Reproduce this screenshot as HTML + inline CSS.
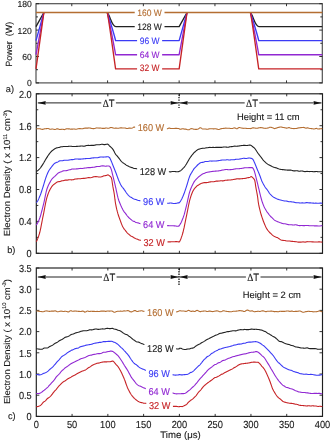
<!DOCTYPE html>
<html><head><meta charset="utf-8"><style>
html,body{margin:0;padding:0;background:#fff;}
svg{display:block;will-change:transform;}
text{font-family:"Liberation Sans",sans-serif;text-rendering:geometricPrecision;}
</style></head><body>
<svg width="331" height="441" viewBox="0 0 331 441">
<rect width="331" height="441" fill="#fff"/>
<rect x="36.0" y="3.7" width="286.30" height="79.20" fill="none" stroke="#4a4a4a" stroke-width="1.15"/>
<line x1="36.0" y1="82.90" x2="39.0" y2="82.90" stroke="#1e1e1e" stroke-width="0.9"/>
<line x1="322.3" y1="82.90" x2="319.3" y2="82.90" stroke="#1e1e1e" stroke-width="0.9"/>
<line x1="36.0" y1="56.50" x2="39.0" y2="56.50" stroke="#1e1e1e" stroke-width="0.9"/>
<line x1="322.3" y1="56.50" x2="319.3" y2="56.50" stroke="#1e1e1e" stroke-width="0.9"/>
<line x1="36.0" y1="30.10" x2="39.0" y2="30.10" stroke="#1e1e1e" stroke-width="0.9"/>
<line x1="322.3" y1="30.10" x2="319.3" y2="30.10" stroke="#1e1e1e" stroke-width="0.9"/>
<line x1="36.0" y1="3.70" x2="39.0" y2="3.70" stroke="#1e1e1e" stroke-width="0.9"/>
<line x1="322.3" y1="3.70" x2="319.3" y2="3.70" stroke="#1e1e1e" stroke-width="0.9"/>
<line x1="36.0" y1="69.70" x2="38.0" y2="69.70" stroke="#1e1e1e" stroke-width="0.9"/>
<line x1="322.3" y1="69.70" x2="320.3" y2="69.70" stroke="#1e1e1e" stroke-width="0.9"/>
<line x1="36.0" y1="43.30" x2="38.0" y2="43.30" stroke="#1e1e1e" stroke-width="0.9"/>
<line x1="322.3" y1="43.30" x2="320.3" y2="43.30" stroke="#1e1e1e" stroke-width="0.9"/>
<line x1="36.0" y1="16.90" x2="38.0" y2="16.90" stroke="#1e1e1e" stroke-width="0.9"/>
<line x1="322.3" y1="16.90" x2="320.3" y2="16.90" stroke="#1e1e1e" stroke-width="0.9"/>
<text transform="translate(31.80 86.31) scale(1.0 1.02)" text-anchor="end" style="font-size:8.6px;fill:#1a1a1a;stroke:#1a1a1a;stroke-width:0.12px;">0</text>
<text transform="translate(31.80 59.91) scale(1.0 1.02)" text-anchor="end" style="font-size:8.6px;fill:#1a1a1a;stroke:#1a1a1a;stroke-width:0.12px;">60</text>
<text transform="translate(31.80 33.51) scale(1.0 1.02)" text-anchor="end" style="font-size:8.6px;fill:#1a1a1a;stroke:#1a1a1a;stroke-width:0.12px;">120</text>
<text transform="translate(31.80 7.11) scale(1.0 1.02)" text-anchor="end" style="font-size:8.6px;fill:#1a1a1a;stroke:#1a1a1a;stroke-width:0.12px;">180</text>
<line x1="71.79" y1="82.9" x2="71.79" y2="80.4" stroke="#1e1e1e" stroke-width="0.9"/>
<line x1="71.79" y1="3.7" x2="71.79" y2="6.2" stroke="#1e1e1e" stroke-width="0.9"/>
<line x1="107.58" y1="82.9" x2="107.58" y2="80.4" stroke="#1e1e1e" stroke-width="0.9"/>
<line x1="107.58" y1="3.7" x2="107.58" y2="6.2" stroke="#1e1e1e" stroke-width="0.9"/>
<line x1="143.36" y1="82.9" x2="143.36" y2="80.4" stroke="#1e1e1e" stroke-width="0.9"/>
<line x1="143.36" y1="3.7" x2="143.36" y2="6.2" stroke="#1e1e1e" stroke-width="0.9"/>
<line x1="179.15" y1="82.9" x2="179.15" y2="80.4" stroke="#1e1e1e" stroke-width="0.9"/>
<line x1="179.15" y1="3.7" x2="179.15" y2="6.2" stroke="#1e1e1e" stroke-width="0.9"/>
<line x1="214.94" y1="82.9" x2="214.94" y2="80.4" stroke="#1e1e1e" stroke-width="0.9"/>
<line x1="214.94" y1="3.7" x2="214.94" y2="6.2" stroke="#1e1e1e" stroke-width="0.9"/>
<line x1="250.72" y1="82.9" x2="250.72" y2="80.4" stroke="#1e1e1e" stroke-width="0.9"/>
<line x1="250.72" y1="3.7" x2="250.72" y2="6.2" stroke="#1e1e1e" stroke-width="0.9"/>
<line x1="286.51" y1="82.9" x2="286.51" y2="80.4" stroke="#1e1e1e" stroke-width="0.9"/>
<line x1="286.51" y1="3.7" x2="286.51" y2="6.2" stroke="#1e1e1e" stroke-width="0.9"/>
<path d="M36.00 26.58 L43.87 12.50 M107.22 12.50 C110.08 15.50 111.87 26.58 115.81 26.58 L179.15 26.58 L179.15 26.58 L187.02 12.50 M250.37 12.50 C253.23 15.50 255.02 26.58 258.96 26.58 L322.30 26.58" stroke="#222222" stroke-width="1.35" fill="none" stroke-linejoin="round"/>
<path d="M36.00 40.66 L43.87 12.50 M107.22 12.50 C108.15 14.50 115.09 37.66 115.59 40.66 L179.15 40.66 L179.15 40.66 L187.02 12.50 M250.37 12.50 C251.30 14.50 258.24 37.66 258.74 40.66 L322.30 40.66" stroke="#3b3bf5" stroke-width="1.35" fill="none" stroke-linejoin="round"/>
<path d="M36.00 54.74 L43.87 12.50 M107.22 12.50 C108.15 14.50 115.09 51.74 115.59 54.74 L179.15 54.74 L179.15 54.74 L187.02 12.50 M250.37 12.50 C251.30 14.50 258.24 51.74 258.74 54.74 L322.30 54.74" stroke="#9128d2" stroke-width="1.35" fill="none" stroke-linejoin="round"/>
<path d="M36.00 68.82 L43.87 12.50 M107.22 12.50 C108.15 14.50 115.09 65.82 115.59 68.82 L179.15 68.82 L179.15 68.82 L187.02 12.50 M250.37 12.50 C251.30 14.50 258.24 65.82 258.74 68.82 L322.30 68.82" stroke="#c62326" stroke-width="1.35" fill="none" stroke-linejoin="round"/>
<path d="M36.0 12.50 L322.3 12.50" stroke="#b46e32" stroke-width="1.3" fill="none"/>
<rect x="134.72" y="7.30" width="29.77" height="9" fill="#fff"/>
<text transform="translate(149.60 15.60) scale(1.0 1.08)" text-anchor="middle" style="font-size:8.5px;fill:#b46e32;stroke:#b46e32;stroke-width:0.12px;">160 W</text>
<rect x="134.72" y="21.30" width="29.77" height="9" fill="#fff"/>
<text transform="translate(149.60 29.60) scale(1.0 1.08)" text-anchor="middle" style="font-size:8.5px;fill:#222222;stroke:#222222;stroke-width:0.12px;">128 W</text>
<rect x="137.08" y="35.50" width="25.04" height="9" fill="#fff"/>
<text transform="translate(149.60 43.80) scale(1.0 1.08)" text-anchor="middle" style="font-size:8.5px;fill:#3b3bf5;stroke:#3b3bf5;stroke-width:0.12px;">96 W</text>
<rect x="137.08" y="49.30" width="25.04" height="9" fill="#fff"/>
<text transform="translate(149.60 57.60) scale(1.0 1.08)" text-anchor="middle" style="font-size:8.5px;fill:#9128d2;stroke:#9128d2;stroke-width:0.12px;">64 W</text>
<rect x="137.08" y="63.10" width="25.04" height="9" fill="#fff"/>
<text transform="translate(149.60 71.40) scale(1.0 1.08)" text-anchor="middle" style="font-size:8.5px;fill:#c62326;stroke:#c62326;stroke-width:0.12px;">32 W</text>
<rect x="36.3" y="93.8" width="286.20" height="159.50" fill="none" stroke="#1e1e1e" stroke-width="1.15"/>
<line x1="36.3" y1="253.30" x2="39.3" y2="253.30" stroke="#1e1e1e" stroke-width="0.9"/>
<line x1="322.5" y1="253.30" x2="319.5" y2="253.30" stroke="#1e1e1e" stroke-width="0.9"/>
<line x1="36.3" y1="221.40" x2="39.3" y2="221.40" stroke="#1e1e1e" stroke-width="0.9"/>
<line x1="322.5" y1="221.40" x2="319.5" y2="221.40" stroke="#1e1e1e" stroke-width="0.9"/>
<line x1="36.3" y1="189.50" x2="39.3" y2="189.50" stroke="#1e1e1e" stroke-width="0.9"/>
<line x1="322.5" y1="189.50" x2="319.5" y2="189.50" stroke="#1e1e1e" stroke-width="0.9"/>
<line x1="36.3" y1="157.60" x2="39.3" y2="157.60" stroke="#1e1e1e" stroke-width="0.9"/>
<line x1="322.5" y1="157.60" x2="319.5" y2="157.60" stroke="#1e1e1e" stroke-width="0.9"/>
<line x1="36.3" y1="125.70" x2="39.3" y2="125.70" stroke="#1e1e1e" stroke-width="0.9"/>
<line x1="322.5" y1="125.70" x2="319.5" y2="125.70" stroke="#1e1e1e" stroke-width="0.9"/>
<line x1="36.3" y1="93.80" x2="39.3" y2="93.80" stroke="#1e1e1e" stroke-width="0.9"/>
<line x1="322.5" y1="93.80" x2="319.5" y2="93.80" stroke="#1e1e1e" stroke-width="0.9"/>
<line x1="36.3" y1="237.35" x2="38.3" y2="237.35" stroke="#1e1e1e" stroke-width="0.9"/>
<line x1="322.5" y1="237.35" x2="320.5" y2="237.35" stroke="#1e1e1e" stroke-width="0.9"/>
<line x1="36.3" y1="205.45" x2="38.3" y2="205.45" stroke="#1e1e1e" stroke-width="0.9"/>
<line x1="322.5" y1="205.45" x2="320.5" y2="205.45" stroke="#1e1e1e" stroke-width="0.9"/>
<line x1="36.3" y1="173.55" x2="38.3" y2="173.55" stroke="#1e1e1e" stroke-width="0.9"/>
<line x1="322.5" y1="173.55" x2="320.5" y2="173.55" stroke="#1e1e1e" stroke-width="0.9"/>
<line x1="36.3" y1="141.65" x2="38.3" y2="141.65" stroke="#1e1e1e" stroke-width="0.9"/>
<line x1="322.5" y1="141.65" x2="320.5" y2="141.65" stroke="#1e1e1e" stroke-width="0.9"/>
<line x1="36.3" y1="109.75" x2="38.3" y2="109.75" stroke="#1e1e1e" stroke-width="0.9"/>
<line x1="322.5" y1="109.75" x2="320.5" y2="109.75" stroke="#1e1e1e" stroke-width="0.9"/>
<text transform="translate(31.70 257.18) scale(1.0 1.1)" text-anchor="end" style="font-size:9.2px;fill:#1a1a1a;stroke:#1a1a1a;stroke-width:0.12px;">0</text>
<text transform="translate(31.70 225.28) scale(1.0 1.1)" text-anchor="end" style="font-size:9.2px;fill:#1a1a1a;stroke:#1a1a1a;stroke-width:0.12px;">0.4</text>
<text transform="translate(31.70 193.38) scale(1.0 1.1)" text-anchor="end" style="font-size:9.2px;fill:#1a1a1a;stroke:#1a1a1a;stroke-width:0.12px;">0.8</text>
<text transform="translate(31.70 161.48) scale(1.0 1.1)" text-anchor="end" style="font-size:9.2px;fill:#1a1a1a;stroke:#1a1a1a;stroke-width:0.12px;">1.2</text>
<text transform="translate(31.70 129.58) scale(1.0 1.1)" text-anchor="end" style="font-size:9.2px;fill:#1a1a1a;stroke:#1a1a1a;stroke-width:0.12px;">1.6</text>
<text transform="translate(31.70 97.68) scale(1.0 1.1)" text-anchor="end" style="font-size:9.2px;fill:#1a1a1a;stroke:#1a1a1a;stroke-width:0.12px;">2.0</text>
<line x1="72.07" y1="253.3" x2="72.07" y2="250.8" stroke="#1e1e1e" stroke-width="0.9"/>
<line x1="72.07" y1="93.8" x2="72.07" y2="96.3" stroke="#1e1e1e" stroke-width="0.9"/>
<line x1="107.85" y1="253.3" x2="107.85" y2="250.8" stroke="#1e1e1e" stroke-width="0.9"/>
<line x1="107.85" y1="93.8" x2="107.85" y2="96.3" stroke="#1e1e1e" stroke-width="0.9"/>
<line x1="143.62" y1="253.3" x2="143.62" y2="250.8" stroke="#1e1e1e" stroke-width="0.9"/>
<line x1="143.62" y1="93.8" x2="143.62" y2="96.3" stroke="#1e1e1e" stroke-width="0.9"/>
<line x1="179.40" y1="253.3" x2="179.40" y2="250.8" stroke="#1e1e1e" stroke-width="0.9"/>
<line x1="179.40" y1="93.8" x2="179.40" y2="96.3" stroke="#1e1e1e" stroke-width="0.9"/>
<line x1="215.18" y1="253.3" x2="215.18" y2="250.8" stroke="#1e1e1e" stroke-width="0.9"/>
<line x1="215.18" y1="93.8" x2="215.18" y2="96.3" stroke="#1e1e1e" stroke-width="0.9"/>
<line x1="250.95" y1="253.3" x2="250.95" y2="250.8" stroke="#1e1e1e" stroke-width="0.9"/>
<line x1="250.95" y1="93.8" x2="250.95" y2="96.3" stroke="#1e1e1e" stroke-width="0.9"/>
<line x1="286.73" y1="253.3" x2="286.73" y2="250.8" stroke="#1e1e1e" stroke-width="0.9"/>
<line x1="286.73" y1="93.8" x2="286.73" y2="96.3" stroke="#1e1e1e" stroke-width="0.9"/>
<path d="M36.3 128.87 L36.8 128.81 L37.3 128.78 L37.8 128.76 L38.3 128.76 L38.8 128.78 L39.3 128.78 L39.8 128.78 L40.3 128.85 L40.8 129.00 L41.3 129.18 L41.8 129.32 L42.3 129.39 L42.8 129.34 L43.3 129.21 L43.8 129.02 L44.3 128.86 L44.8 128.77 L45.3 128.74 L45.8 128.72 L46.3 128.67 L46.8 128.61 L47.3 128.54 L47.8 128.50 L48.3 128.55 L48.8 128.71 L49.3 128.93 L49.8 129.13 L50.3 129.22 L50.8 129.20 L51.3 129.15 L51.8 129.07 L52.3 129.02 L52.8 129.06 L53.3 129.18 L53.8 129.32 L54.3 129.41 L54.8 129.46 L55.3 129.43 L55.8 129.30 L56.3 129.08 L56.8 128.88 L57.3 128.79 L57.8 128.85 L58.3 129.01 L58.8 129.22 L59.3 129.39 L59.8 129.46 L60.3 129.46 L60.8 129.41 L61.3 129.36 L61.8 129.31 L62.3 129.28 L62.8 129.30 L63.3 129.40 L63.8 129.54 L64.3 129.61 L64.8 129.55 L65.3 129.34 L65.9 129.08 L66.4 128.88 L66.9 128.79 L67.4 128.78 L67.9 128.83 L68.4 128.86 L68.9 128.87 L69.4 128.92 L69.9 129.01 L70.4 129.10 L70.9 129.17 L71.4 129.17 L71.9 129.13 L72.4 129.11 L72.9 129.08 L73.4 129.06 L73.9 129.04 L74.4 129.07 L74.9 129.15 L75.4 129.25 L75.9 129.29 L76.4 129.23 L76.9 129.09 L77.4 128.92 L77.9 128.77 L78.4 128.67 L78.9 128.62 L79.4 128.60 L79.9 128.59 L80.4 128.62 L80.9 128.68 L81.4 128.75 L81.9 128.76 L82.4 128.71 L82.9 128.61 L83.4 128.48 L83.9 128.35 L84.4 128.24 L84.9 128.14 L85.4 128.09 L85.9 128.07 L86.4 128.09 L86.9 128.14 L87.4 128.14 L87.9 128.09 L88.4 127.99 L88.9 127.92 L89.4 127.93 L89.9 128.01 L90.4 128.13 L90.9 128.27 L91.4 128.41 L91.9 128.48 L92.4 128.53 L92.9 128.59 L93.4 128.64 L93.9 128.61 L94.4 128.53 L94.9 128.42 L95.4 128.27 L95.9 128.09 L96.4 127.95 L96.9 127.92 L97.4 127.96 L97.9 128.01 L98.4 128.05 L98.9 128.08 L99.4 128.09 L99.9 128.06 L100.4 128.06 L100.9 128.11 L101.4 128.20 L101.9 128.29 L102.4 128.36 L102.9 128.39 L103.4 128.40 L103.9 128.37 L104.4 128.33 L104.9 128.24 L105.4 128.11 L105.9 128.00 L106.4 127.98 L106.9 128.05 L107.4 128.17 L107.9 128.28 L108.4 128.31 L108.9 128.23 L109.4 128.02 L109.9 127.78 L110.4 127.62 L110.9 127.54 L111.4 127.52 L111.9 127.58 L112.4 127.70 L112.9 127.86 L113.4 128.05 L113.9 128.20 L114.4 128.25 L114.9 128.20 L115.4 128.14 L115.9 128.13 L116.4 128.17 L116.9 128.22 L117.4 128.28 L117.9 128.32 L118.4 128.28 L118.9 128.18 L119.4 128.08 L119.9 127.99 L120.4 127.90 L120.9 127.83 L121.4 127.84 L121.9 127.91 L122.4 127.99 L122.9 128.05 L123.4 128.06 L123.9 128.02 L124.4 127.99 L125.0 128.02 L125.5 128.11 L126.0 128.26 L126.5 128.42 L127.0 128.52 L127.5 128.50 L128.0 128.38 L128.5 128.21 L129.0 128.09 L129.5 128.05 L130.0 128.09 L130.5 128.16 L131.0 128.20 L131.5 128.19 L132.0 128.08 L132.5 127.89 L133.0 127.62 L133.5 127.32 L134.0 127.09 L134.5 127.04 L135.0 127.14 L135.5 127.36 L136.0 127.59 L136.5 127.70 L137.0 127.70 L137.5 127.67 L138.0 127.67 L138.5 127.74 L139.0 127.87 L139.5 128.02 L140.0 128.19 L140.5 128.35 L141.0 128.46 L141.5 128.50 L142.0 128.48 L142.5 128.40 L143.0 128.29 L143.5 128.17 L144.0 128.02 L144.5 127.90 L145.0 127.81 L145.5 127.77 L146.0 127.82 L146.5 127.98 L147.0 128.14 L147.5 128.19 L148.0 128.08 L148.5 127.83 L149.0 127.55 L149.5 127.34 L150.0 127.27 L150.5 127.35 L151.0 127.49 L151.5 127.56 L152.0 127.57 L152.5 127.58 L153.0 127.62 L153.5 127.73 L154.0 127.91 L154.5 128.05 L155.0 128.11 L155.5 128.02 L156.0 127.83 L156.5 127.69 L157.0 127.66 L157.5 127.73 L158.0 127.93 L158.5 128.18 L159.0 128.38 L159.5 128.47 L160.0 128.41 L160.5 128.26 L161.0 128.11 L161.5 127.98 L162.0 127.94 L162.5 128.04 L163.0 128.20 L163.5 128.36 L164.0 128.45 L164.5 128.46 L165.0 128.45 L165.5 128.48 L166.0 128.56 L166.5 128.68 L167.0 128.73 L167.5 128.65 L168.0 128.45 L168.5 128.23 L169.0 128.10 L169.5 128.12 L170.0 128.24 L170.5 128.36 L171.0 128.44 L171.5 128.47 L172.0 128.47 L172.5 128.49 L173.0 128.54 L173.5 128.57 L174.0 128.54 L174.5 128.45 L175.0 128.36 L175.5 128.33 L176.0 128.34 L176.5 128.38 L177.0 128.42 L177.5 128.46 L178.0 128.49 L178.5 128.53 L179.0 128.58 L179.5 129.07 L180.0 129.17 L180.5 129.21 L181.0 129.15 L181.5 129.01 L182.0 128.87 L182.5 128.81 L183.0 128.81 L183.5 128.89 L184.1 129.01 L184.6 129.10 L185.1 129.14 L185.6 129.17 L186.1 129.23 L186.6 129.35 L187.1 129.53 L187.6 129.69 L188.1 129.80 L188.6 129.81 L189.1 129.67 L189.6 129.43 L190.1 129.12 L190.6 128.85 L191.1 128.67 L191.6 128.63 L192.1 128.70 L192.6 128.83 L193.1 128.97 L193.6 129.10 L194.1 129.20 L194.6 129.29 L195.1 129.37 L195.6 129.42 L196.1 129.41 L196.6 129.37 L197.1 129.31 L197.6 129.20 L198.1 129.00 L198.6 128.71 L199.1 128.34 L199.6 127.97 L200.1 127.72 L200.6 127.70 L201.1 127.94 L201.6 128.33 L202.1 128.70 L202.6 128.94 L203.1 129.04 L203.6 129.03 L204.1 128.98 L204.6 128.94 L205.1 128.96 L205.6 129.01 L206.1 129.10 L206.6 129.19 L207.1 129.22 L207.6 129.18 L208.1 129.09 L208.6 128.97 L209.1 128.86 L209.6 128.78 L210.1 128.74 L210.6 128.72 L211.1 128.70 L211.6 128.68 L212.1 128.70 L212.6 128.78 L213.1 128.85 L213.6 128.86 L214.1 128.83 L214.6 128.81 L215.1 128.79 L215.6 128.80 L216.1 128.86 L216.6 128.97 L217.1 129.12 L217.6 129.27 L218.1 129.42 L218.6 129.49 L219.1 129.42 L219.6 129.25 L220.1 129.05 L220.6 128.86 L221.1 128.70 L221.6 128.60 L222.1 128.54 L222.6 128.50 L223.1 128.44 L223.6 128.41 L224.1 128.38 L224.6 128.31 L225.1 128.19 L225.6 128.11 L226.1 128.12 L226.6 128.19 L227.1 128.28 L227.6 128.32 L228.1 128.29 L228.6 128.21 L229.1 128.18 L229.6 128.25 L230.1 128.35 L230.6 128.43 L231.1 128.48 L231.6 128.51 L232.1 128.49 L232.6 128.41 L233.1 128.27 L233.6 128.10 L234.1 127.94 L234.6 127.86 L235.1 127.94 L235.6 128.19 L236.1 128.52 L236.6 128.74 L237.1 128.71 L237.6 128.42 L238.1 128.04 L238.6 127.73 L239.1 127.57 L239.6 127.54 L240.1 127.66 L240.6 127.84 L241.1 127.95 L241.6 128.01 L242.1 128.11 L242.7 128.23 L243.2 128.32 L243.7 128.33 L244.2 128.27 L244.7 128.21 L245.2 128.19 L245.7 128.23 L246.2 128.34 L246.7 128.47 L247.2 128.55 L247.7 128.56 L248.2 128.53 L248.7 128.48 L249.2 128.49 L249.7 128.57 L250.2 128.62 L250.7 128.56 L251.2 128.38 L251.7 128.16 L252.2 127.96 L252.7 127.84 L253.2 127.82 L253.7 127.89 L254.2 127.99 L254.7 128.06 L255.2 128.10 L255.7 128.18 L256.2 128.25 L256.7 128.28 L257.2 128.25 L257.7 128.16 L258.2 128.03 L258.7 127.90 L259.2 127.79 L259.7 127.69 L260.2 127.62 L260.7 127.58 L261.2 127.59 L261.7 127.67 L262.2 127.77 L262.7 127.89 L263.2 128.02 L263.7 128.15 L264.2 128.25 L264.7 128.31 L265.2 128.34 L265.7 128.31 L266.2 128.24 L266.7 128.17 L267.2 128.11 L267.7 128.03 L268.2 127.88 L268.7 127.66 L269.2 127.42 L269.7 127.27 L270.2 127.22 L270.7 127.29 L271.2 127.40 L271.7 127.53 L272.2 127.68 L272.7 127.85 L273.2 128.10 L273.7 128.37 L274.2 128.58 L274.7 128.63 L275.2 128.52 L275.7 128.32 L276.2 128.12 L276.7 127.93 L277.2 127.76 L277.7 127.63 L278.2 127.52 L278.7 127.36 L279.2 127.21 L279.7 127.09 L280.2 127.03 L280.7 127.03 L281.2 127.07 L281.7 127.15 L282.2 127.27 L282.7 127.39 L283.2 127.48 L283.7 127.56 L284.2 127.62 L284.7 127.69 L285.2 127.82 L285.7 127.97 L286.2 128.09 L286.7 128.13 L287.2 128.08 L287.7 127.95 L288.2 127.78 L288.7 127.67 L289.2 127.67 L289.7 127.81 L290.2 128.00 L290.7 128.17 L291.2 128.30 L291.7 128.39 L292.2 128.45 L292.7 128.51 L293.2 128.57 L293.7 128.59 L294.2 128.58 L294.7 128.56 L295.2 128.54 L295.7 128.51 L296.2 128.46 L296.7 128.37 L297.2 128.24 L297.7 128.09 L298.2 127.98 L298.7 127.91 L299.2 127.86 L299.7 127.80 L300.2 127.73 L300.7 127.65 L301.2 127.58 L301.8 127.54 L302.3 127.50 L302.8 127.42 L303.3 127.36 L303.8 127.43 L304.3 127.62 L304.8 127.84 L305.3 128.02 L305.8 128.11 L306.3 128.08 L306.8 127.95 L307.3 127.84 L307.8 127.86 L308.3 128.00 L308.8 128.18 L309.3 128.33 L309.8 128.43 L310.3 128.50 L310.8 128.54 L311.3 128.58 L311.8 128.62 L312.3 128.67 L312.8 128.78 L313.3 128.91 L313.8 128.98 L314.3 128.96 L314.8 128.83 L315.3 128.63 L315.8 128.46 L316.3 128.37 L316.8 128.47 L317.3 128.69 L317.8 128.89 L318.3 129.00 L318.8 128.98 L319.3 128.90 L319.8 128.83 L320.3 128.79 L320.8 128.77 L321.3 128.72 L321.8 128.65 L322.3 128.61" stroke="#b46e32" stroke-width="1.1" fill="none"/>
<path d="M36.3 171.53 L36.8 171.29 L37.3 170.94 L37.8 170.51 L38.3 170.05 L38.8 169.56 L39.3 169.08 L39.8 168.56 L40.3 167.99 L40.8 167.34 L41.3 166.63 L41.8 165.89 L42.3 165.13 L42.8 164.35 L43.3 163.54 L43.8 162.69 L44.3 161.79 L44.8 160.90 L45.3 160.04 L45.8 159.20 L46.3 158.40 L46.8 157.62 L47.3 156.84 L47.8 156.06 L48.3 155.29 L48.8 154.57 L49.3 153.91 L49.8 153.25 L50.3 152.61 L50.8 152.01 L51.3 151.49 L51.8 151.04 L52.3 150.65 L52.8 150.27 L53.3 149.88 L53.8 149.48 L54.3 149.08 L54.8 148.73 L55.3 148.44 L55.8 148.23 L56.3 148.05 L56.8 147.90 L57.3 147.78 L57.8 147.67 L58.3 147.58 L58.8 147.48 L59.3 147.35 L59.8 147.19 L60.3 147.03 L60.8 146.91 L61.3 146.81 L61.8 146.74 L62.3 146.67 L62.8 146.60 L63.3 146.51 L63.8 146.45 L64.3 146.43 L64.8 146.46 L65.3 146.51 L65.9 146.55 L66.4 146.56 L66.9 146.54 L67.4 146.50 L67.9 146.43 L68.4 146.37 L68.9 146.32 L69.4 146.27 L69.9 146.24 L70.4 146.23 L70.9 146.26 L71.4 146.33 L71.9 146.40 L72.4 146.43 L72.9 146.46 L73.4 146.46 L73.9 146.45 L74.4 146.44 L74.9 146.45 L75.4 146.45 L75.9 146.45 L76.4 146.42 L76.9 146.38 L77.4 146.35 L77.9 146.31 L78.4 146.27 L78.9 146.23 L79.4 146.18 L79.9 146.14 L80.4 146.10 L80.9 146.04 L81.4 146.00 L81.9 145.98 L82.4 146.02 L82.9 146.10 L83.4 146.17 L83.9 146.19 L84.4 146.15 L84.9 146.03 L85.4 145.86 L85.9 145.68 L86.4 145.56 L86.9 145.49 L87.4 145.45 L87.9 145.42 L88.4 145.40 L88.9 145.42 L89.4 145.43 L89.9 145.43 L90.4 145.41 L90.9 145.37 L91.4 145.34 L91.9 145.33 L92.4 145.35 L92.9 145.39 L93.4 145.41 L93.9 145.36 L94.4 145.26 L94.9 145.12 L95.4 144.97 L95.9 144.84 L96.4 144.75 L96.9 144.72 L97.4 144.72 L97.9 144.72 L98.4 144.72 L98.9 144.71 L99.4 144.68 L99.9 144.62 L100.4 144.53 L100.9 144.41 L101.4 144.30 L101.9 144.24 L102.4 144.28 L102.9 144.40 L103.4 144.53 L103.9 144.62 L104.4 144.65 L104.9 144.60 L105.4 144.50 L105.9 144.39 L106.4 144.29 L106.9 144.20 L107.4 144.14 L107.9 144.19 L108.4 144.57 L108.9 145.15 L109.4 145.77 L109.9 146.29 L110.4 146.72 L110.9 147.14 L111.4 147.57 L111.9 148.07 L112.4 148.64 L112.9 149.32 L113.4 150.14 L113.9 151.09 L114.4 152.09 L114.9 153.05 L115.4 153.87 L115.9 154.54 L116.4 155.15 L116.9 155.72 L117.4 156.29 L117.9 156.90 L118.4 157.54 L118.9 158.20 L119.4 158.86 L119.9 159.55 L120.4 160.22 L120.9 160.84 L121.4 161.38 L121.9 161.87 L122.4 162.31 L122.9 162.70 L123.4 163.05 L123.9 163.40 L124.4 163.75 L125.0 164.12 L125.5 164.49 L126.0 164.86 L126.5 165.16 L127.0 165.41 L127.5 165.64 L128.0 165.89 L128.5 166.18 L129.0 166.49 L129.5 166.78 L130.0 167.00 L130.5 167.15 L131.0 167.27 L131.5 167.43 L132.0 167.62 L132.5 167.83 L133.0 168.05 L133.5 168.23 L134.0 168.36 L134.5 168.44 L135.0 168.48 L135.5 168.54 L136.0 168.61 L136.5 168.68 L137.0 168.77 L137.5 168.89 L138.0 169.02 L138.5 169.17 L139.0 169.31 L139.5 169.45 L140.0 169.58 L140.5 169.71 L141.0 169.82 L141.5 169.91 L142.0 169.97 L142.5 170.00 L143.0 170.02 L143.5 170.06 L144.0 170.14 L144.5 170.26 L145.0 170.41 L145.5 170.52 L146.0 170.59 L146.5 170.59 L147.0 170.55 L147.5 170.47 L148.0 170.39 L148.5 170.34 L149.0 170.33 L149.5 170.36 L150.0 170.40 L150.5 170.42 L151.0 170.43 L151.5 170.45 L152.0 170.49 L152.5 170.58 L153.0 170.70 L153.5 170.82 L154.0 170.92 L154.5 170.99 L155.0 171.03 L155.5 171.07 L156.0 171.10 L156.5 171.13 L157.0 171.12 L157.5 171.10 L158.0 171.09 L158.5 171.11 L159.0 171.17 L159.5 171.29 L160.0 171.43 L160.5 171.54 L161.0 171.59 L161.5 171.57 L162.0 171.50 L162.5 171.41 L163.0 171.34 L163.5 171.32 L164.0 171.32 L164.5 171.33 L165.0 171.32 L165.5 171.30 L166.0 171.27 L166.5 171.26 L167.0 171.28 L167.5 171.34 L168.0 171.45 L168.5 171.58 L169.0 171.72 L169.5 171.83 L170.0 171.90 L170.5 171.89 L171.0 171.79 L171.5 171.67 L172.0 171.57 L172.5 171.52 L173.0 171.52 L173.5 171.53 L174.0 171.53 L174.5 171.55 L175.0 171.57 L175.5 171.63 L176.0 171.71 L176.5 171.78 L177.0 171.80 L177.5 171.77 L178.0 171.69 L178.5 171.61 L179.0 171.56 L179.5 171.26 L180.0 170.98 L180.5 170.69 L181.0 170.34 L181.5 169.94 L182.0 169.48 L182.5 168.98 L183.0 168.45 L183.5 167.89 L184.1 167.31 L184.6 166.69 L185.1 166.03 L185.6 165.28 L186.1 164.49 L186.6 163.67 L187.1 162.81 L187.6 161.92 L188.1 161.03 L188.6 160.17 L189.1 159.34 L189.6 158.54 L190.1 157.76 L190.6 157.04 L191.1 156.34 L191.6 155.66 L192.1 155.00 L192.6 154.38 L193.1 153.79 L193.6 153.21 L194.1 152.68 L194.6 152.22 L195.1 151.79 L195.6 151.34 L196.1 150.88 L196.6 150.45 L197.1 150.08 L197.6 149.75 L198.1 149.49 L198.6 149.29 L199.1 149.15 L199.6 148.99 L200.1 148.82 L200.6 148.66 L201.1 148.52 L201.6 148.42 L202.1 148.35 L202.6 148.32 L203.1 148.32 L203.6 148.31 L204.1 148.27 L204.6 148.19 L205.1 148.08 L205.6 147.95 L206.1 147.84 L206.6 147.78 L207.1 147.74 L207.6 147.71 L208.1 147.65 L208.6 147.55 L209.1 147.45 L209.6 147.39 L210.1 147.41 L210.6 147.46 L211.1 147.50 L211.6 147.49 L212.1 147.44 L212.6 147.38 L213.1 147.35 L213.6 147.39 L214.1 147.44 L214.6 147.47 L215.1 147.44 L215.6 147.39 L216.1 147.35 L216.6 147.33 L217.1 147.34 L217.6 147.37 L218.1 147.38 L218.6 147.35 L219.1 147.32 L219.6 147.33 L220.1 147.36 L220.6 147.40 L221.1 147.42 L221.6 147.39 L222.1 147.30 L222.6 147.19 L223.1 147.10 L223.6 147.04 L224.1 147.01 L224.6 146.99 L225.1 147.00 L225.6 147.04 L226.1 147.09 L226.6 147.16 L227.1 147.25 L227.6 147.30 L228.1 147.26 L228.6 147.15 L229.1 147.02 L229.6 146.88 L230.1 146.76 L230.6 146.69 L231.1 146.66 L231.6 146.64 L232.1 146.61 L232.6 146.53 L233.1 146.41 L233.6 146.29 L234.1 146.19 L234.6 146.15 L235.1 146.17 L235.6 146.21 L236.1 146.25 L236.6 146.25 L237.1 146.21 L237.6 146.16 L238.1 146.10 L238.6 146.03 L239.1 145.95 L239.6 145.86 L240.1 145.78 L240.6 145.70 L241.1 145.62 L241.6 145.56 L242.1 145.50 L242.7 145.45 L243.2 145.41 L243.7 145.38 L244.2 145.38 L244.7 145.38 L245.2 145.40 L245.7 145.43 L246.2 145.46 L246.7 145.47 L247.2 145.44 L247.7 145.38 L248.2 145.28 L248.7 145.17 L249.2 145.11 L249.7 145.11 L250.2 145.16 L250.7 145.23 L251.2 145.42 L251.7 145.81 L252.2 146.27 L252.7 146.71 L253.2 147.07 L253.7 147.44 L254.2 147.86 L254.7 148.38 L255.2 149.00 L255.7 149.69 L256.2 150.45 L256.7 151.24 L257.2 152.05 L257.7 152.82 L258.2 153.54 L258.7 154.20 L259.2 154.84 L259.7 155.47 L260.2 156.09 L260.7 156.72 L261.2 157.38 L261.7 158.05 L262.2 158.75 L262.7 159.44 L263.2 160.09 L263.7 160.66 L264.2 161.17 L264.7 161.64 L265.2 162.11 L265.7 162.57 L266.2 163.01 L266.7 163.43 L267.2 163.80 L267.7 164.13 L268.2 164.42 L268.7 164.67 L269.2 164.91 L269.7 165.16 L270.2 165.44 L270.7 165.72 L271.2 166.01 L271.7 166.30 L272.2 166.56 L272.7 166.78 L273.2 166.98 L273.7 167.17 L274.2 167.35 L274.7 167.51 L275.2 167.64 L275.7 167.76 L276.2 167.89 L276.7 168.04 L277.2 168.22 L277.7 168.43 L278.2 168.65 L278.7 168.86 L279.2 169.05 L279.7 169.20 L280.2 169.31 L280.7 169.41 L281.2 169.49 L281.7 169.55 L282.2 169.58 L282.7 169.60 L283.2 169.63 L283.7 169.71 L284.2 169.79 L284.7 169.85 L285.2 169.90 L285.7 169.95 L286.2 170.00 L286.7 170.05 L287.2 170.10 L287.7 170.14 L288.2 170.16 L288.7 170.14 L289.2 170.11 L289.7 170.09 L290.2 170.12 L290.7 170.17 L291.2 170.23 L291.7 170.33 L292.2 170.47 L292.7 170.63 L293.2 170.78 L293.7 170.86 L294.2 170.89 L294.7 170.88 L295.2 170.83 L295.7 170.78 L296.2 170.76 L296.7 170.76 L297.2 170.79 L297.7 170.86 L298.2 170.97 L298.7 171.09 L299.2 171.18 L299.7 171.20 L300.2 171.13 L300.7 171.05 L301.2 170.97 L301.8 170.95 L302.3 171.01 L302.8 171.12 L303.3 171.27 L303.8 171.42 L304.3 171.52 L304.8 171.58 L305.3 171.58 L305.8 171.53 L306.3 171.47 L306.8 171.42 L307.3 171.42 L307.8 171.48 L308.3 171.54 L308.8 171.57 L309.3 171.58 L309.8 171.55 L310.3 171.53 L310.8 171.51 L311.3 171.51 L311.8 171.54 L312.3 171.57 L312.8 171.61 L313.3 171.66 L313.8 171.68 L314.3 171.67 L314.8 171.64 L315.3 171.60 L315.8 171.55 L316.3 171.53 L316.8 171.56 L317.3 171.64 L317.8 171.71 L318.3 171.76 L318.8 171.79 L319.3 171.78 L319.8 171.77 L320.3 171.74 L320.8 171.73 L321.3 171.72 L321.8 171.73 L322.3 171.76" stroke="#222222" stroke-width="1.1" fill="none"/>
<path d="M36.3 202.70 L36.8 202.16 L37.3 201.49 L37.8 200.67 L38.3 199.71 L38.8 198.64 L39.3 197.50 L39.8 196.33 L40.3 195.06 L40.8 193.70 L41.3 192.24 L41.8 190.71 L42.3 189.13 L42.8 187.54 L43.3 185.97 L43.8 184.36 L44.3 182.68 L44.8 181.02 L45.3 179.43 L45.8 177.90 L46.3 176.47 L46.8 175.17 L47.3 173.94 L47.8 172.75 L48.3 171.66 L48.8 170.73 L49.3 169.93 L49.8 169.22 L50.3 168.56 L50.8 167.92 L51.3 167.25 L51.8 166.58 L52.3 165.93 L52.8 165.31 L53.3 164.72 L53.8 164.17 L54.3 163.69 L54.8 163.30 L55.3 163.00 L55.8 162.75 L56.3 162.55 L56.8 162.36 L57.3 162.16 L57.8 161.91 L58.3 161.64 L58.8 161.35 L59.3 161.07 L59.8 160.85 L60.3 160.73 L60.8 160.70 L61.3 160.73 L61.8 160.75 L62.3 160.72 L62.8 160.64 L63.3 160.51 L63.8 160.39 L64.3 160.31 L64.8 160.26 L65.3 160.24 L65.9 160.23 L66.4 160.23 L66.9 160.22 L67.4 160.21 L67.9 160.18 L68.4 160.14 L68.9 160.07 L69.4 159.97 L69.9 159.85 L70.4 159.76 L70.9 159.69 L71.4 159.64 L71.9 159.62 L72.4 159.61 L72.9 159.60 L73.4 159.55 L73.9 159.44 L74.4 159.29 L74.9 159.14 L75.4 159.01 L75.9 158.94 L76.4 158.95 L76.9 158.99 L77.4 159.05 L77.9 159.07 L78.4 159.08 L78.9 159.07 L79.4 159.09 L79.9 159.11 L80.4 159.11 L80.9 159.09 L81.4 159.05 L81.9 159.01 L82.4 158.97 L82.9 158.91 L83.4 158.86 L83.9 158.82 L84.4 158.75 L84.9 158.68 L85.4 158.62 L85.9 158.58 L86.4 158.54 L86.9 158.51 L87.4 158.47 L87.9 158.47 L88.4 158.47 L88.9 158.47 L89.4 158.45 L89.9 158.41 L90.4 158.35 L90.9 158.26 L91.4 158.14 L91.9 158.03 L92.4 157.95 L92.9 157.89 L93.4 157.86 L93.9 157.85 L94.4 157.81 L94.9 157.77 L95.4 157.74 L95.9 157.72 L96.4 157.73 L96.9 157.72 L97.4 157.68 L97.9 157.60 L98.4 157.49 L98.9 157.38 L99.4 157.26 L99.9 157.15 L100.4 157.06 L100.9 157.00 L101.4 156.98 L101.9 157.00 L102.4 157.04 L102.9 157.08 L103.4 157.08 L103.9 157.06 L104.4 157.03 L104.9 156.99 L105.4 156.96 L105.9 156.91 L106.4 156.85 L106.9 156.80 L107.4 156.77 L107.9 156.76 L108.4 156.84 L108.9 157.10 L109.4 157.48 L109.9 158.14 L110.4 159.16 L110.9 160.33 L111.4 161.45 L111.9 162.66 L112.4 163.95 L112.9 165.27 L113.4 166.57 L113.9 167.82 L114.4 169.04 L114.9 170.26 L115.4 171.49 L115.9 172.75 L116.4 174.06 L116.9 175.44 L117.4 176.84 L117.9 178.22 L118.4 179.54 L118.9 180.76 L119.4 181.90 L119.9 183.02 L120.4 184.09 L120.9 185.06 L121.4 185.91 L121.9 186.63 L122.4 187.25 L122.9 187.83 L123.4 188.45 L123.9 189.13 L124.4 189.88 L125.0 190.67 L125.5 191.46 L126.0 192.22 L126.5 192.94 L127.0 193.63 L127.5 194.28 L128.0 194.90 L128.5 195.46 L129.0 195.96 L129.5 196.39 L130.0 196.74 L130.5 197.04 L131.0 197.31 L131.5 197.57 L132.0 197.87 L132.5 198.21 L133.0 198.54 L133.5 198.82 L134.0 199.04 L134.5 199.19 L135.0 199.32 L135.5 199.44 L136.0 199.58 L136.5 199.77 L137.0 199.96 L137.5 200.15 L138.0 200.31 L138.5 200.43 L139.0 200.53 L139.5 200.61 L140.0 200.68 L140.5 200.72 L141.0 200.78 L141.5 200.85 L142.0 200.96 L142.5 201.09 L143.0 201.20 L143.5 201.27 L144.0 201.31 L144.5 201.36 L145.0 201.43 L145.5 201.55 L146.0 201.68 L146.5 201.83 L147.0 201.97 L147.5 202.10 L148.0 202.20 L148.5 202.26 L149.0 202.27 L149.5 202.24 L150.0 202.21 L150.5 202.23 L151.0 202.33 L151.5 202.49 L152.0 202.66 L152.5 202.81 L153.0 202.93 L153.5 203.01 L154.0 203.06 L154.5 203.09 L155.0 203.10 L155.5 203.04 L156.0 202.93 L156.5 202.81 L157.0 202.71 L157.5 202.65 L158.0 202.63 L158.5 202.66 L159.0 202.75 L159.5 202.86 L160.0 202.98 L160.5 203.08 L161.0 203.15 L161.5 203.18 L162.0 203.18 L162.5 203.16 L163.0 203.15 L163.5 203.15 L164.0 203.12 L164.5 203.08 L165.0 203.04 L165.5 203.02 L166.0 203.04 L166.5 203.10 L167.0 203.17 L167.5 203.24 L168.0 203.27 L168.5 203.25 L169.0 203.18 L169.5 203.10 L170.0 203.04 L170.5 203.03 L171.0 203.05 L171.5 203.10 L172.0 203.19 L172.5 203.29 L173.0 203.38 L173.5 203.43 L174.0 203.45 L174.5 203.46 L175.0 203.45 L175.5 203.42 L176.0 203.36 L176.5 203.29 L177.0 203.17 L177.5 203.03 L178.0 202.91 L178.5 202.88 L179.0 202.93 L179.5 202.37 L180.0 201.82 L180.5 201.14 L181.0 200.32 L181.5 199.40 L182.0 198.40 L182.5 197.34 L183.0 196.22 L183.5 194.96 L184.1 193.58 L184.6 192.13 L185.1 190.65 L185.6 189.15 L186.1 187.65 L186.6 186.14 L187.1 184.52 L187.6 182.81 L188.1 181.08 L188.6 179.41 L189.1 177.86 L189.6 176.49 L190.1 175.36 L190.6 174.38 L191.1 173.51 L191.6 172.70 L192.1 171.89 L192.6 171.05 L193.1 170.19 L193.6 169.38 L194.1 168.67 L194.6 168.08 L195.1 167.57 L195.6 167.07 L196.1 166.56 L196.6 166.03 L197.1 165.50 L197.6 165.00 L198.1 164.53 L198.6 164.10 L199.1 163.70 L199.6 163.33 L200.1 163.02 L200.6 162.77 L201.1 162.58 L201.6 162.47 L202.1 162.40 L202.6 162.34 L203.1 162.26 L203.6 162.11 L204.1 161.92 L204.6 161.72 L205.1 161.56 L205.6 161.48 L206.1 161.48 L206.6 161.50 L207.1 161.53 L207.6 161.52 L208.1 161.45 L208.6 161.33 L209.1 161.19 L209.6 161.07 L210.1 161.01 L210.6 161.03 L211.1 161.07 L211.6 161.11 L212.1 161.11 L212.6 161.06 L213.1 161.01 L213.6 160.96 L214.1 160.94 L214.6 160.95 L215.1 160.95 L215.6 160.96 L216.1 160.95 L216.6 160.91 L217.1 160.85 L217.6 160.76 L218.1 160.69 L218.6 160.63 L219.1 160.57 L219.6 160.50 L220.1 160.41 L220.6 160.30 L221.1 160.19 L221.6 160.10 L222.1 160.04 L222.6 160.00 L223.1 159.97 L223.6 159.96 L224.1 159.96 L224.6 159.97 L225.1 159.97 L225.6 159.95 L226.1 159.89 L226.6 159.80 L227.1 159.73 L227.6 159.73 L228.1 159.80 L228.6 159.92 L229.1 160.01 L229.6 160.04 L230.1 159.99 L230.6 159.89 L231.1 159.80 L231.6 159.74 L232.1 159.71 L232.6 159.71 L233.1 159.71 L233.6 159.71 L234.1 159.67 L234.6 159.59 L235.1 159.48 L235.6 159.35 L236.1 159.23 L236.6 159.18 L237.1 159.20 L237.6 159.25 L238.1 159.27 L238.6 159.24 L239.1 159.16 L239.6 159.05 L240.1 158.95 L240.6 158.87 L241.1 158.78 L241.6 158.68 L242.1 158.56 L242.7 158.41 L243.2 158.29 L243.7 158.24 L244.2 158.26 L244.7 158.34 L245.2 158.42 L245.7 158.48 L246.2 158.49 L246.7 158.43 L247.2 158.33 L247.7 158.23 L248.2 158.13 L248.7 158.06 L249.2 158.03 L249.7 158.07 L250.2 158.16 L250.7 158.27 L251.2 158.38 L251.7 158.58 L252.2 158.85 L252.7 159.16 L253.2 159.83 L253.7 160.82 L254.2 161.92 L254.7 163.02 L255.2 164.24 L255.7 165.52 L256.2 166.80 L256.7 168.03 L257.2 169.23 L257.7 170.42 L258.2 171.61 L258.7 172.79 L259.2 173.98 L259.7 175.21 L260.2 176.54 L260.7 177.95 L261.2 179.35 L261.7 180.68 L262.2 181.83 L262.7 182.86 L263.2 183.82 L263.7 184.72 L264.2 185.59 L264.7 186.43 L265.2 187.22 L265.7 187.92 L266.2 188.53 L266.7 189.12 L267.2 189.75 L267.7 190.46 L268.2 191.25 L268.7 192.06 L269.2 192.84 L269.7 193.54 L270.2 194.16 L270.7 194.70 L271.2 195.19 L271.7 195.67 L272.2 196.13 L272.7 196.53 L273.2 196.89 L273.7 197.20 L274.2 197.49 L274.7 197.77 L275.2 198.06 L275.7 198.33 L276.2 198.59 L276.7 198.81 L277.2 199.00 L277.7 199.20 L278.2 199.37 L278.7 199.53 L279.2 199.68 L279.7 199.81 L280.2 199.94 L280.7 200.07 L281.2 200.19 L281.7 200.31 L282.2 200.45 L282.7 200.59 L283.2 200.71 L283.7 200.82 L284.2 200.91 L284.7 200.98 L285.2 201.02 L285.7 201.05 L286.2 201.07 L286.7 201.13 L287.2 201.23 L287.7 201.37 L288.2 201.53 L288.7 201.64 L289.2 201.69 L289.7 201.69 L290.2 201.67 L290.7 201.68 L291.2 201.74 L291.7 201.85 L292.2 201.95 L292.7 202.02 L293.2 202.06 L293.7 202.14 L294.2 202.25 L294.7 202.38 L295.2 202.50 L295.7 202.60 L296.2 202.67 L296.7 202.69 L297.2 202.69 L297.7 202.70 L298.2 202.72 L298.7 202.77 L299.2 202.85 L299.7 202.94 L300.2 203.01 L300.7 203.01 L301.2 202.95 L301.8 202.89 L302.3 202.86 L302.8 202.88 L303.3 202.96 L303.8 203.02 L304.3 203.02 L304.8 202.97 L305.3 202.86 L305.8 202.74 L306.3 202.63 L306.8 202.60 L307.3 202.64 L307.8 202.72 L308.3 202.80 L308.8 202.84 L309.3 202.84 L309.8 202.84 L310.3 202.84 L310.8 202.86 L311.3 202.93 L311.8 203.00 L312.3 203.07 L312.8 203.11 L313.3 203.13 L313.8 203.16 L314.3 203.18 L314.8 203.18 L315.3 203.17 L315.8 203.16 L316.3 203.17 L316.8 203.21 L317.3 203.27 L317.8 203.31 L318.3 203.32 L318.8 203.29 L319.3 203.22 L319.8 203.15 L320.3 203.11 L320.8 203.12 L321.3 203.16 L321.8 203.20 L322.3 203.22" stroke="#3b3bf5" stroke-width="1.1" fill="none"/>
<path d="M36.3 225.11 L36.8 224.42 L37.3 223.58 L37.8 222.63 L38.3 221.58 L38.8 220.48 L39.3 219.30 L39.8 218.03 L40.3 216.53 L40.8 214.81 L41.3 212.93 L41.8 210.99 L42.3 209.04 L42.8 207.12 L43.3 205.20 L43.8 203.13 L44.3 200.81 L44.8 198.34 L45.3 195.86 L45.8 193.50 L46.3 191.35 L46.8 189.53 L47.3 188.04 L47.8 186.72 L48.3 185.56 L48.8 184.52 L49.3 183.56 L49.8 182.63 L50.3 181.71 L50.8 180.81 L51.3 179.96 L51.8 179.23 L52.3 178.60 L52.8 178.05 L53.3 177.58 L53.8 177.14 L54.3 176.73 L54.8 176.29 L55.3 175.80 L55.8 175.29 L56.3 174.78 L56.8 174.27 L57.3 173.80 L57.8 173.37 L58.3 172.98 L58.8 172.66 L59.3 172.40 L59.8 172.20 L60.3 172.05 L60.8 171.90 L61.3 171.71 L61.8 171.50 L62.3 171.26 L62.8 171.04 L63.3 170.86 L63.8 170.75 L64.3 170.70 L64.8 170.69 L65.3 170.68 L65.9 170.65 L66.4 170.60 L66.9 170.50 L67.4 170.37 L67.9 170.20 L68.4 170.05 L68.9 169.93 L69.4 169.83 L69.9 169.72 L70.4 169.60 L70.9 169.44 L71.4 169.26 L71.9 169.12 L72.4 169.04 L72.9 169.04 L73.4 169.06 L73.9 169.08 L74.4 169.07 L74.9 169.03 L75.4 168.98 L75.9 168.93 L76.4 168.90 L76.9 168.87 L77.4 168.84 L77.9 168.79 L78.4 168.72 L78.9 168.63 L79.4 168.53 L79.9 168.46 L80.4 168.43 L80.9 168.42 L81.4 168.45 L81.9 168.46 L82.4 168.44 L82.9 168.38 L83.4 168.29 L83.9 168.19 L84.4 168.10 L84.9 168.05 L85.4 168.02 L85.9 167.98 L86.4 167.91 L86.9 167.79 L87.4 167.67 L87.9 167.59 L88.4 167.57 L88.9 167.60 L89.4 167.63 L89.9 167.64 L90.4 167.62 L90.9 167.56 L91.4 167.48 L91.9 167.41 L92.4 167.33 L92.9 167.27 L93.4 167.23 L93.9 167.18 L94.4 167.10 L94.9 167.00 L95.4 166.86 L95.9 166.71 L96.4 166.59 L96.9 166.52 L97.4 166.50 L97.9 166.51 L98.4 166.52 L98.9 166.52 L99.4 166.47 L99.9 166.35 L100.4 166.19 L100.9 166.04 L101.4 165.92 L101.9 165.86 L102.4 165.85 L102.9 165.87 L103.4 165.91 L103.9 165.98 L104.4 166.07 L104.9 166.14 L105.4 166.18 L105.9 166.15 L106.4 166.10 L106.9 166.05 L107.4 166.00 L107.9 165.98 L108.4 165.97 L108.9 165.94 L109.4 166.13 L109.9 166.67 L110.4 167.39 L110.9 168.37 L111.4 169.87 L111.9 171.72 L112.4 173.79 L112.9 175.93 L113.4 177.99 L113.9 179.99 L114.4 182.07 L114.9 184.18 L115.4 186.28 L115.9 188.49 L116.4 190.82 L116.9 193.15 L117.4 195.40 L117.9 197.48 L118.4 199.29 L118.9 200.78 L119.4 202.06 L119.9 203.28 L120.4 204.47 L120.9 205.64 L121.4 206.77 L121.9 207.85 L122.4 208.87 L122.9 209.78 L123.4 210.61 L123.9 211.38 L124.4 212.09 L125.0 212.77 L125.5 213.44 L126.0 214.13 L126.5 214.82 L127.0 215.48 L127.5 216.11 L128.0 216.71 L128.5 217.26 L129.0 217.76 L129.5 218.22 L130.0 218.65 L130.5 219.07 L131.0 219.49 L131.5 219.94 L132.0 220.36 L132.5 220.71 L133.0 220.98 L133.5 221.19 L134.0 221.38 L134.5 221.61 L135.0 221.89 L135.5 222.18 L136.0 222.43 L136.5 222.58 L137.0 222.67 L137.5 222.77 L138.0 222.89 L138.5 223.03 L139.0 223.19 L139.5 223.35 L140.0 223.49 L140.5 223.60 L141.0 223.67 L141.5 223.71 L142.0 223.76 L142.5 223.84 L143.0 223.98 L143.5 224.16 L144.0 224.32 L144.5 224.43 L145.0 224.50 L145.5 224.55 L146.0 224.64 L146.5 224.77 L147.0 224.90 L147.5 224.95 L148.0 224.91 L148.5 224.81 L149.0 224.71 L149.5 224.67 L150.0 224.73 L150.5 224.84 L151.0 224.95 L151.5 225.05 L152.0 225.11 L152.5 225.14 L153.0 225.13 L153.5 225.11 L154.0 225.09 L154.5 225.07 L155.0 225.08 L155.5 225.16 L156.0 225.27 L156.5 225.35 L157.0 225.39 L157.5 225.39 L158.0 225.36 L158.5 225.32 L159.0 225.32 L159.5 225.36 L160.0 225.41 L160.5 225.45 L161.0 225.48 L161.5 225.51 L162.0 225.55 L162.5 225.58 L163.0 225.60 L163.5 225.62 L164.0 225.62 L164.5 225.64 L165.0 225.65 L165.5 225.65 L166.0 225.64 L166.5 225.63 L167.0 225.62 L167.5 225.62 L168.0 225.64 L168.5 225.67 L169.0 225.69 L169.5 225.70 L170.0 225.72 L170.5 225.72 L171.0 225.72 L171.5 225.71 L172.0 225.70 L172.5 225.71 L173.0 225.76 L173.5 225.81 L174.0 225.85 L174.5 225.89 L175.0 225.92 L175.5 225.98 L176.0 226.07 L176.5 226.16 L177.0 226.23 L177.5 226.24 L178.0 226.18 L178.5 226.10 L179.0 226.04 L179.5 225.14 L180.0 224.45 L180.5 223.64 L181.0 222.70 L181.5 221.66 L182.0 220.52 L182.5 219.31 L183.0 218.03 L183.5 216.57 L184.1 214.94 L184.6 213.14 L185.1 211.21 L185.6 209.21 L186.1 207.20 L186.6 205.18 L187.1 203.00 L187.6 200.69 L188.1 198.33 L188.6 196.04 L189.1 193.91 L189.6 192.06 L190.1 190.57 L190.6 189.28 L191.1 188.06 L191.6 186.89 L192.1 185.78 L192.6 184.70 L193.1 183.69 L193.6 182.75 L194.1 181.89 L194.6 181.13 L195.1 180.47 L195.6 179.88 L196.1 179.34 L196.6 178.83 L197.1 178.34 L197.6 177.87 L198.1 177.40 L198.6 176.94 L199.1 176.53 L199.6 176.15 L200.1 175.77 L200.6 175.39 L201.1 175.00 L201.6 174.63 L202.1 174.28 L202.6 173.98 L203.1 173.75 L203.6 173.57 L204.1 173.40 L204.6 173.20 L205.1 173.00 L205.6 172.80 L206.1 172.59 L206.6 172.42 L207.1 172.29 L207.6 172.19 L208.1 172.10 L208.6 172.03 L209.1 171.95 L209.6 171.86 L210.1 171.76 L210.6 171.67 L211.1 171.59 L211.6 171.51 L212.1 171.45 L212.6 171.42 L213.1 171.39 L213.6 171.33 L214.1 171.25 L214.6 171.19 L215.1 171.14 L215.6 171.10 L216.1 171.08 L216.6 171.07 L217.1 171.05 L217.6 171.00 L218.1 170.93 L218.6 170.86 L219.1 170.80 L219.6 170.72 L220.1 170.62 L220.6 170.51 L221.1 170.39 L221.6 170.25 L222.1 170.13 L222.6 170.05 L223.1 169.99 L223.6 169.92 L224.1 169.83 L224.6 169.74 L225.1 169.64 L225.6 169.55 L226.1 169.49 L226.6 169.50 L227.1 169.56 L227.6 169.62 L228.1 169.68 L228.6 169.72 L229.1 169.73 L229.6 169.70 L230.1 169.64 L230.6 169.60 L231.1 169.58 L231.6 169.55 L232.1 169.50 L232.6 169.43 L233.1 169.34 L233.6 169.25 L234.1 169.16 L234.6 169.07 L235.1 168.98 L235.6 168.88 L236.1 168.79 L236.6 168.74 L237.1 168.74 L237.6 168.77 L238.1 168.81 L238.6 168.80 L239.1 168.73 L239.6 168.64 L240.1 168.55 L240.6 168.49 L241.1 168.45 L241.6 168.40 L242.1 168.32 L242.7 168.22 L243.2 168.12 L243.7 168.01 L244.2 167.90 L244.7 167.82 L245.2 167.79 L245.7 167.78 L246.2 167.77 L246.7 167.77 L247.2 167.76 L247.7 167.73 L248.2 167.69 L248.7 167.66 L249.2 167.65 L249.7 167.66 L250.2 167.67 L250.7 167.67 L251.2 167.66 L251.7 167.64 L252.2 167.64 L252.7 167.98 L253.2 168.65 L253.7 169.48 L254.2 170.67 L254.7 172.30 L255.2 174.19 L255.7 176.20 L256.2 178.23 L256.7 180.13 L257.2 182.07 L257.7 184.15 L258.2 186.26 L258.7 188.34 L259.2 190.48 L259.7 192.61 L260.2 194.67 L260.7 196.63 L261.2 198.49 L261.7 200.24 L262.2 201.79 L262.7 203.23 L263.2 204.56 L263.7 205.78 L264.2 206.89 L264.7 207.90 L265.2 208.83 L265.7 209.71 L266.2 210.55 L266.7 211.34 L267.2 212.08 L267.7 212.76 L268.2 213.44 L268.7 214.11 L269.2 214.77 L269.7 215.40 L270.2 215.98 L270.7 216.50 L271.2 216.99 L271.7 217.46 L272.2 217.93 L272.7 218.43 L273.2 218.96 L273.7 219.45 L274.2 219.86 L274.7 220.21 L275.2 220.53 L275.7 220.83 L276.2 221.09 L276.7 221.30 L277.2 221.51 L277.7 221.71 L278.2 221.90 L278.7 222.11 L279.2 222.33 L279.7 222.52 L280.2 222.66 L280.7 222.80 L281.2 222.96 L281.7 223.17 L282.2 223.37 L282.7 223.55 L283.2 223.66 L283.7 223.70 L284.2 223.70 L284.7 223.71 L285.2 223.78 L285.7 223.92 L286.2 224.09 L286.7 224.26 L287.2 224.39 L287.7 224.51 L288.2 224.60 L288.7 224.66 L289.2 224.69 L289.7 224.71 L290.2 224.72 L290.7 224.71 L291.2 224.72 L291.7 224.77 L292.2 224.86 L292.7 224.96 L293.2 225.01 L293.7 225.01 L294.2 224.95 L294.7 224.86 L295.2 224.79 L295.7 224.77 L296.2 224.83 L296.7 224.96 L297.2 225.12 L297.7 225.29 L298.2 225.45 L298.7 225.57 L299.2 225.63 L299.7 225.64 L300.2 225.60 L300.7 225.57 L301.2 225.55 L301.8 225.55 L302.3 225.57 L302.8 225.61 L303.3 225.63 L303.8 225.63 L304.3 225.62 L304.8 225.59 L305.3 225.55 L305.8 225.51 L306.3 225.49 L306.8 225.49 L307.3 225.50 L307.8 225.51 L308.3 225.56 L308.8 225.63 L309.3 225.70 L309.8 225.77 L310.3 225.81 L310.8 225.82 L311.3 225.82 L311.8 225.80 L312.3 225.78 L312.8 225.77 L313.3 225.77 L313.8 225.80 L314.3 225.85 L314.8 225.90 L315.3 225.91 L315.8 225.89 L316.3 225.85 L316.8 225.84 L317.3 225.88 L317.8 225.95 L318.3 226.00 L318.8 226.02 L319.3 226.02 L319.8 225.99 L320.3 225.92 L320.8 225.83 L321.3 225.73 L321.8 225.66 L322.3 225.60" stroke="#9128d2" stroke-width="1.1" fill="none"/>
<path d="M36.3 241.73 L36.8 240.78 L37.3 239.66 L37.8 238.42 L38.3 237.07 L38.8 235.60 L39.3 234.01 L39.8 232.27 L40.3 230.19 L40.8 227.80 L41.3 225.22 L41.8 222.58 L42.3 219.98 L42.8 217.45 L43.3 215.02 L43.8 212.55 L44.3 209.92 L44.8 207.23 L45.3 204.59 L45.8 202.10 L46.3 199.86 L46.8 197.94 L47.3 196.30 L47.8 194.78 L48.3 193.40 L48.8 192.15 L49.3 191.03 L49.8 189.99 L50.3 189.04 L50.8 188.17 L51.3 187.33 L51.8 186.56 L52.3 185.90 L52.8 185.35 L53.3 184.88 L53.8 184.47 L54.3 184.09 L54.8 183.72 L55.3 183.35 L55.8 182.98 L56.3 182.63 L56.8 182.30 L57.3 182.02 L57.8 181.81 L58.3 181.68 L58.8 181.63 L59.3 181.59 L59.8 181.52 L60.3 181.39 L60.8 181.22 L61.3 181.04 L61.8 180.88 L62.3 180.76 L62.8 180.69 L63.3 180.62 L63.8 180.51 L64.3 180.38 L64.8 180.24 L65.3 180.14 L65.9 180.11 L66.4 180.12 L66.9 180.13 L67.4 180.09 L67.9 180.00 L68.4 179.88 L68.9 179.76 L69.4 179.70 L69.9 179.72 L70.4 179.77 L70.9 179.81 L71.4 179.83 L71.9 179.84 L72.4 179.82 L72.9 179.74 L73.4 179.61 L73.9 179.45 L74.4 179.29 L74.9 179.15 L75.4 179.05 L75.9 178.99 L76.4 178.95 L76.9 178.90 L77.4 178.85 L77.9 178.79 L78.4 178.73 L78.9 178.70 L79.4 178.69 L79.9 178.70 L80.4 178.68 L80.9 178.63 L81.4 178.56 L81.9 178.50 L82.4 178.44 L82.9 178.41 L83.4 178.41 L83.9 178.41 L84.4 178.39 L84.9 178.33 L85.4 178.24 L85.9 178.15 L86.4 178.05 L86.9 177.92 L87.4 177.78 L87.9 177.68 L88.4 177.62 L88.9 177.61 L89.4 177.63 L89.9 177.68 L90.4 177.71 L90.9 177.68 L91.4 177.57 L91.9 177.41 L92.4 177.24 L92.9 177.06 L93.4 176.88 L93.9 176.75 L94.4 176.68 L94.9 176.65 L95.4 176.65 L95.9 176.65 L96.4 176.65 L96.9 176.68 L97.4 176.73 L97.9 176.82 L98.4 176.92 L98.9 177.00 L99.4 177.04 L99.9 177.04 L100.4 176.99 L100.9 176.92 L101.4 176.81 L101.9 176.64 L102.4 176.44 L102.9 176.23 L103.4 176.04 L103.9 175.88 L104.4 175.76 L104.9 175.67 L105.4 175.59 L105.9 175.50 L106.4 175.39 L106.9 175.19 L107.4 175.00 L107.9 174.92 L108.4 175.06 L108.9 175.35 L109.4 175.72 L109.9 176.10 L110.4 176.49 L110.9 177.06 L111.4 177.95 L111.9 179.79 L112.4 183.54 L112.9 186.67 L113.4 189.30 L113.9 191.93 L114.4 194.96 L114.9 199.19 L115.4 202.74 L115.9 205.41 L116.4 207.81 L116.9 209.98 L117.4 211.94 L117.9 213.69 L118.4 215.25 L118.9 216.70 L119.4 218.11 L119.9 219.53 L120.4 220.94 L120.9 222.31 L121.4 223.61 L121.9 224.80 L122.4 225.90 L122.9 226.90 L123.4 227.83 L123.9 228.64 L124.4 229.34 L125.0 230.00 L125.5 230.65 L126.0 231.31 L126.5 231.95 L127.0 232.56 L127.5 233.11 L128.0 233.59 L128.5 234.02 L129.0 234.44 L129.5 234.87 L130.0 235.30 L130.5 235.68 L131.0 235.98 L131.5 236.23 L132.0 236.46 L132.5 236.70 L133.0 237.00 L133.5 237.34 L134.0 237.71 L134.5 238.07 L135.0 238.37 L135.5 238.59 L136.0 238.76 L136.5 238.91 L137.0 239.08 L137.5 239.26 L138.0 239.45 L138.5 239.67 L139.0 239.88 L139.5 240.04 L140.0 240.16 L140.5 240.26 L141.0 240.36 L141.5 240.45 L142.0 240.55 L142.5 240.66 L143.0 240.77 L143.5 240.85 L144.0 240.92 L144.5 240.98 L145.0 241.05 L145.5 241.10 L146.0 241.15 L146.5 241.18 L147.0 241.22 L147.5 241.26 L148.0 241.29 L148.5 241.32 L149.0 241.32 L149.5 241.29 L150.0 241.27 L150.5 241.29 L151.0 241.35 L151.5 241.42 L152.0 241.48 L152.5 241.53 L153.0 241.53 L153.5 241.51 L154.0 241.50 L154.5 241.52 L155.0 241.59 L155.5 241.70 L156.0 241.83 L156.5 241.97 L157.0 242.09 L157.5 242.16 L158.0 242.20 L158.5 242.20 L159.0 242.16 L159.5 242.09 L160.0 242.03 L160.5 241.99 L161.0 241.96 L161.5 241.95 L162.0 241.92 L162.5 241.91 L163.0 241.91 L163.5 241.95 L164.0 242.00 L164.5 242.05 L165.0 242.09 L165.5 242.09 L166.0 242.04 L166.5 241.97 L167.0 241.91 L167.5 241.87 L168.0 241.86 L168.5 241.86 L169.0 241.89 L169.5 241.91 L170.0 241.90 L170.5 241.85 L171.0 241.80 L171.5 241.76 L172.0 241.74 L172.5 241.76 L173.0 241.80 L173.5 241.82 L174.0 241.80 L174.5 241.75 L175.0 241.69 L175.5 241.66 L176.0 241.63 L176.5 241.62 L177.0 241.65 L177.5 241.70 L178.0 241.76 L178.5 241.84 L179.0 241.91 L179.5 241.71 L180.0 240.77 L180.5 239.68 L181.0 238.47 L181.5 237.13 L182.0 235.65 L182.5 234.05 L183.0 232.26 L183.5 230.12 L184.1 227.72 L184.6 225.20 L185.1 222.64 L185.6 220.08 L186.1 217.61 L186.6 215.28 L187.1 212.87 L187.6 210.33 L188.1 207.76 L188.6 205.25 L189.1 202.88 L189.6 200.72 L190.1 198.86 L190.6 197.21 L191.1 195.69 L191.6 194.29 L192.1 193.00 L192.6 191.83 L193.1 190.80 L193.6 189.92 L194.1 189.17 L194.6 188.49 L195.1 187.88 L195.6 187.31 L196.1 186.77 L196.6 186.29 L197.1 185.90 L197.6 185.59 L198.1 185.28 L198.6 184.96 L199.1 184.63 L199.6 184.30 L200.1 183.99 L200.6 183.73 L201.1 183.51 L201.6 183.32 L202.1 183.15 L202.6 183.00 L203.1 182.86 L203.6 182.74 L204.1 182.67 L204.6 182.64 L205.1 182.62 L205.6 182.61 L206.1 182.61 L206.6 182.60 L207.1 182.56 L207.6 182.48 L208.1 182.38 L208.6 182.26 L209.1 182.12 L209.6 182.00 L210.1 181.91 L210.6 181.84 L211.1 181.76 L211.6 181.70 L212.1 181.68 L212.6 181.70 L213.1 181.72 L213.6 181.71 L214.1 181.66 L214.6 181.56 L215.1 181.41 L215.6 181.26 L216.1 181.16 L216.6 181.11 L217.1 181.10 L217.6 181.10 L218.1 181.09 L218.6 181.07 L219.1 181.03 L219.6 180.95 L220.1 180.88 L220.6 180.82 L221.1 180.79 L221.6 180.81 L222.1 180.84 L222.6 180.87 L223.1 180.86 L223.6 180.78 L224.1 180.63 L224.6 180.47 L225.1 180.33 L225.6 180.23 L226.1 180.19 L226.6 180.18 L227.1 180.16 L227.6 180.14 L228.1 180.11 L228.6 180.07 L229.1 180.06 L229.6 180.05 L230.1 180.02 L230.6 179.98 L231.1 179.91 L231.6 179.83 L232.1 179.76 L232.6 179.68 L233.1 179.58 L233.6 179.48 L234.1 179.37 L234.6 179.27 L235.1 179.18 L235.6 179.09 L236.1 179.00 L236.6 178.91 L237.1 178.84 L237.6 178.80 L238.1 178.82 L238.6 178.87 L239.1 178.91 L239.6 178.92 L240.1 178.88 L240.6 178.81 L241.1 178.74 L241.6 178.69 L242.1 178.65 L242.7 178.61 L243.2 178.55 L243.7 178.49 L244.2 178.45 L244.7 178.41 L245.2 178.35 L245.7 178.27 L246.2 178.14 L246.7 177.97 L247.2 177.80 L247.7 177.70 L248.2 177.65 L248.7 177.62 L249.2 177.56 L249.7 177.41 L250.2 177.13 L250.7 176.82 L251.2 176.68 L251.7 176.81 L252.2 177.18 L252.7 177.66 L253.2 178.17 L253.7 178.69 L254.2 179.36 L254.7 180.31 L255.2 182.68 L255.7 186.35 L256.2 189.18 L256.7 191.74 L257.2 194.37 L257.7 197.53 L258.2 201.72 L258.7 204.67 L259.2 207.08 L259.7 209.24 L260.2 211.21 L260.7 213.03 L261.2 214.72 L261.7 216.30 L262.2 217.82 L262.7 219.29 L263.2 220.70 L263.7 222.02 L264.2 223.27 L264.7 224.47 L265.2 225.60 L265.7 226.68 L266.2 227.69 L266.7 228.61 L267.2 229.43 L267.7 230.12 L268.2 230.77 L268.7 231.39 L269.2 231.97 L269.7 232.50 L270.2 232.98 L270.7 233.44 L271.2 233.90 L271.7 234.36 L272.2 234.82 L272.7 235.25 L273.2 235.62 L273.7 235.93 L274.2 236.22 L274.7 236.49 L275.2 236.75 L275.7 236.99 L276.2 237.20 L276.7 237.40 L277.2 237.61 L277.7 237.84 L278.2 238.11 L278.7 238.43 L279.2 238.76 L279.7 239.10 L280.2 239.42 L280.7 239.72 L281.2 239.98 L281.7 240.18 L282.2 240.30 L282.7 240.35 L283.2 240.39 L283.7 240.44 L284.2 240.49 L284.7 240.55 L285.2 240.62 L285.7 240.72 L286.2 240.83 L286.7 240.92 L287.2 240.99 L287.7 241.05 L288.2 241.07 L288.7 241.05 L289.2 241.04 L289.7 241.06 L290.2 241.13 L290.7 241.20 L291.2 241.27 L291.7 241.33 L292.2 241.38 L292.7 241.41 L293.2 241.44 L293.7 241.49 L294.2 241.55 L294.7 241.61 L295.2 241.65 L295.7 241.70 L296.2 241.75 L296.7 241.82 L297.2 241.92 L297.7 242.04 L298.2 242.12 L298.7 242.16 L299.2 242.17 L299.7 242.16 L300.2 242.14 L300.7 242.13 L301.2 242.10 L301.8 242.04 L302.3 241.97 L302.8 241.91 L303.3 241.90 L303.8 241.96 L304.3 242.05 L304.8 242.12 L305.3 242.11 L305.8 242.01 L306.3 241.86 L306.8 241.74 L307.3 241.67 L307.8 241.68 L308.3 241.74 L308.8 241.78 L309.3 241.79 L309.8 241.77 L310.3 241.77 L310.8 241.78 L311.3 241.82 L311.8 241.86 L312.3 241.90 L312.8 241.91 L313.3 241.91 L313.8 241.94 L314.3 241.98 L314.8 242.02 L315.3 242.04 L315.8 242.04 L316.3 242.02 L316.8 242.01 L317.3 241.98 L317.8 241.95 L318.3 241.91 L318.8 241.88 L319.3 241.86 L319.8 241.88 L320.3 241.93 L320.8 242.00 L321.3 242.07 L321.8 242.12 L322.3 242.13" stroke="#c62326" stroke-width="1.1" fill="none"/>
<rect x="135.11" y="122.70" width="31.79" height="9" fill="#fff"/>
<text transform="translate(151.00 131.00) scale(1.0 1.08)" text-anchor="middle" style="font-size:9.2px;fill:#b46e32;stroke:#b46e32;stroke-width:0.12px;">160 W</text>
<rect x="137.11" y="166.60" width="31.79" height="9" fill="#fff"/>
<text transform="translate(153.00 174.90) scale(1.0 1.08)" text-anchor="middle" style="font-size:9.2px;fill:#222222;stroke:#222222;stroke-width:0.12px;">128 W</text>
<rect x="140.46" y="196.60" width="26.67" height="9" fill="#fff"/>
<text transform="translate(153.80 204.90) scale(1.0 1.08)" text-anchor="middle" style="font-size:9.2px;fill:#3b3bf5;stroke:#3b3bf5;stroke-width:0.12px;">96 W</text>
<rect x="140.46" y="219.20" width="26.67" height="9" fill="#fff"/>
<text transform="translate(153.80 227.50) scale(1.0 1.08)" text-anchor="middle" style="font-size:9.2px;fill:#9128d2;stroke:#9128d2;stroke-width:0.12px;">64 W</text>
<rect x="140.86" y="237.30" width="26.67" height="9" fill="#fff"/>
<text transform="translate(154.20 245.60) scale(1.0 1.08)" text-anchor="middle" style="font-size:9.2px;fill:#c62326;stroke:#c62326;stroke-width:0.12px;">32 W</text>
<line x1="37.80" y1="102.9" x2="101.30" y2="102.9" stroke="#222" stroke-width="1"/>
<line x1="115.90" y1="102.9" x2="178.50" y2="102.9" stroke="#222" stroke-width="1"/>
<line x1="179.70" y1="102.9" x2="244.70" y2="102.9" stroke="#222" stroke-width="1"/>
<line x1="259.30" y1="102.9" x2="321.50" y2="102.9" stroke="#222" stroke-width="1"/>
<path d="M37.80 102.90 L45.80 101.00 L45.20 102.90 L45.80 104.80 Z" fill="#111"/>
<path d="M178.50 102.90 L170.50 101.00 L171.10 102.90 L170.50 104.80 Z" fill="#111"/>
<path d="M179.70 102.90 L187.70 101.00 L187.10 102.90 L187.70 104.80 Z" fill="#111"/>
<path d="M321.50 102.90 L313.50 101.00 L314.10 102.90 L313.50 104.80 Z" fill="#111"/>
<line x1="179.0" y1="94.39999999999999" x2="179.0" y2="107.9" stroke="#000" stroke-width="1.2" stroke-dasharray="1.3 1.2"/>
<text transform="translate(108.60 106.50) scale(0.95 1.08)" text-anchor="middle" style="font-size:10.0px;fill:#1a1a1a;stroke:#1a1a1a;stroke-width:0.12px;"><tspan style="font-family:Liberation Serif">&#916;</tspan>T</text>
<text transform="translate(252.00 106.50) scale(0.95 1.08)" text-anchor="middle" style="font-size:10.0px;fill:#1a1a1a;stroke:#1a1a1a;stroke-width:0.12px;"><tspan style="font-family:Liberation Serif">&#916;</tspan>T</text>
<text transform="translate(237.00 120.20) scale(1.0 1.0)" text-anchor="start" style="font-size:9.4px;fill:#1a1a1a;stroke:#1a1a1a;stroke-width:0.12px;">Height = 11 cm</text>
<rect x="36.3" y="268.0" width="286.20" height="148.40" fill="none" stroke="#1e1e1e" stroke-width="1.15"/>
<line x1="36.3" y1="416.40" x2="39.3" y2="416.40" stroke="#1e1e1e" stroke-width="0.9"/>
<line x1="322.5" y1="416.40" x2="319.5" y2="416.40" stroke="#1e1e1e" stroke-width="0.9"/>
<line x1="36.3" y1="395.20" x2="39.3" y2="395.20" stroke="#1e1e1e" stroke-width="0.9"/>
<line x1="322.5" y1="395.20" x2="319.5" y2="395.20" stroke="#1e1e1e" stroke-width="0.9"/>
<line x1="36.3" y1="374.00" x2="39.3" y2="374.00" stroke="#1e1e1e" stroke-width="0.9"/>
<line x1="322.5" y1="374.00" x2="319.5" y2="374.00" stroke="#1e1e1e" stroke-width="0.9"/>
<line x1="36.3" y1="352.80" x2="39.3" y2="352.80" stroke="#1e1e1e" stroke-width="0.9"/>
<line x1="322.5" y1="352.80" x2="319.5" y2="352.80" stroke="#1e1e1e" stroke-width="0.9"/>
<line x1="36.3" y1="331.60" x2="39.3" y2="331.60" stroke="#1e1e1e" stroke-width="0.9"/>
<line x1="322.5" y1="331.60" x2="319.5" y2="331.60" stroke="#1e1e1e" stroke-width="0.9"/>
<line x1="36.3" y1="310.40" x2="39.3" y2="310.40" stroke="#1e1e1e" stroke-width="0.9"/>
<line x1="322.5" y1="310.40" x2="319.5" y2="310.40" stroke="#1e1e1e" stroke-width="0.9"/>
<line x1="36.3" y1="289.20" x2="39.3" y2="289.20" stroke="#1e1e1e" stroke-width="0.9"/>
<line x1="322.5" y1="289.20" x2="319.5" y2="289.20" stroke="#1e1e1e" stroke-width="0.9"/>
<line x1="36.3" y1="268.00" x2="39.3" y2="268.00" stroke="#1e1e1e" stroke-width="0.9"/>
<line x1="322.5" y1="268.00" x2="319.5" y2="268.00" stroke="#1e1e1e" stroke-width="0.9"/>
<text transform="translate(31.70 420.28) scale(1.0 1.1)" text-anchor="end" style="font-size:9.2px;fill:#1a1a1a;stroke:#1a1a1a;stroke-width:0.12px;">0</text>
<text transform="translate(31.70 399.08) scale(1.0 1.1)" text-anchor="end" style="font-size:9.2px;fill:#1a1a1a;stroke:#1a1a1a;stroke-width:0.12px;">0.5</text>
<text transform="translate(31.70 377.88) scale(1.0 1.1)" text-anchor="end" style="font-size:9.2px;fill:#1a1a1a;stroke:#1a1a1a;stroke-width:0.12px;">1.0</text>
<text transform="translate(31.70 356.68) scale(1.0 1.1)" text-anchor="end" style="font-size:9.2px;fill:#1a1a1a;stroke:#1a1a1a;stroke-width:0.12px;">1.5</text>
<text transform="translate(31.70 335.48) scale(1.0 1.1)" text-anchor="end" style="font-size:9.2px;fill:#1a1a1a;stroke:#1a1a1a;stroke-width:0.12px;">2.0</text>
<text transform="translate(31.70 314.28) scale(1.0 1.1)" text-anchor="end" style="font-size:9.2px;fill:#1a1a1a;stroke:#1a1a1a;stroke-width:0.12px;">2.5</text>
<text transform="translate(31.70 293.08) scale(1.0 1.1)" text-anchor="end" style="font-size:9.2px;fill:#1a1a1a;stroke:#1a1a1a;stroke-width:0.12px;">3.0</text>
<text transform="translate(31.70 271.88) scale(1.0 1.1)" text-anchor="end" style="font-size:9.2px;fill:#1a1a1a;stroke:#1a1a1a;stroke-width:0.12px;">3.5</text>
<line x1="72.07" y1="416.4" x2="72.07" y2="413.9" stroke="#1e1e1e" stroke-width="0.9"/>
<line x1="72.07" y1="268.0" x2="72.07" y2="270.5" stroke="#1e1e1e" stroke-width="0.9"/>
<line x1="107.85" y1="416.4" x2="107.85" y2="413.9" stroke="#1e1e1e" stroke-width="0.9"/>
<line x1="107.85" y1="268.0" x2="107.85" y2="270.5" stroke="#1e1e1e" stroke-width="0.9"/>
<line x1="143.62" y1="416.4" x2="143.62" y2="413.9" stroke="#1e1e1e" stroke-width="0.9"/>
<line x1="143.62" y1="268.0" x2="143.62" y2="270.5" stroke="#1e1e1e" stroke-width="0.9"/>
<line x1="179.40" y1="416.4" x2="179.40" y2="413.9" stroke="#1e1e1e" stroke-width="0.9"/>
<line x1="179.40" y1="268.0" x2="179.40" y2="270.5" stroke="#1e1e1e" stroke-width="0.9"/>
<line x1="215.18" y1="416.4" x2="215.18" y2="413.9" stroke="#1e1e1e" stroke-width="0.9"/>
<line x1="215.18" y1="268.0" x2="215.18" y2="270.5" stroke="#1e1e1e" stroke-width="0.9"/>
<line x1="250.95" y1="416.4" x2="250.95" y2="413.9" stroke="#1e1e1e" stroke-width="0.9"/>
<line x1="250.95" y1="268.0" x2="250.95" y2="270.5" stroke="#1e1e1e" stroke-width="0.9"/>
<line x1="286.73" y1="416.4" x2="286.73" y2="413.9" stroke="#1e1e1e" stroke-width="0.9"/>
<line x1="286.73" y1="268.0" x2="286.73" y2="270.5" stroke="#1e1e1e" stroke-width="0.9"/>
<path d="M36.3 310.94 L36.8 310.95 L37.3 310.96 L37.8 311.01 L38.3 311.10 L38.8 311.18 L39.3 311.28 L39.8 311.38 L40.3 311.46 L40.8 311.51 L41.3 311.54 L41.8 311.62 L42.3 311.72 L42.8 311.78 L43.3 311.72 L43.8 311.57 L44.3 311.37 L44.8 311.17 L45.3 311.03 L45.8 310.94 L46.3 310.91 L46.8 310.93 L47.3 311.00 L47.8 311.10 L48.3 311.22 L48.8 311.32 L49.3 311.39 L49.8 311.39 L50.3 311.31 L50.8 311.19 L51.3 311.10 L51.8 311.07 L52.3 311.09 L52.8 311.14 L53.3 311.16 L53.8 311.11 L54.3 310.98 L54.8 310.86 L55.3 310.86 L55.8 311.00 L56.3 311.24 L56.8 311.48 L57.3 311.67 L57.8 311.75 L58.3 311.68 L58.8 311.56 L59.3 311.41 L59.8 311.27 L60.3 311.17 L60.8 311.10 L61.3 311.12 L61.8 311.22 L62.3 311.33 L62.8 311.41 L63.3 311.46 L63.8 311.43 L64.3 311.35 L64.8 311.28 L65.3 311.25 L65.9 311.31 L66.4 311.42 L66.9 311.56 L67.4 311.74 L67.9 311.85 L68.4 311.84 L68.9 311.68 L69.4 311.41 L69.9 311.10 L70.4 310.83 L70.9 310.74 L71.4 310.85 L71.9 311.03 L72.4 311.19 L72.9 311.25 L73.4 311.23 L73.9 311.16 L74.4 311.08 L74.9 311.02 L75.4 311.04 L75.9 311.10 L76.4 311.13 L76.9 311.18 L77.4 311.25 L77.9 311.31 L78.4 311.33 L78.9 311.35 L79.4 311.40 L79.9 311.48 L80.4 311.53 L80.9 311.47 L81.4 311.35 L81.9 311.23 L82.4 311.12 L82.9 311.12 L83.4 311.28 L83.9 311.57 L84.4 311.88 L84.9 312.07 L85.4 312.04 L85.9 311.80 L86.4 311.47 L86.9 311.15 L87.4 310.99 L87.9 311.03 L88.4 311.20 L88.9 311.39 L89.4 311.50 L89.9 311.45 L90.4 311.34 L90.9 311.27 L91.4 311.26 L91.9 311.30 L92.4 311.35 L92.9 311.36 L93.4 311.36 L93.9 311.36 L94.4 311.38 L94.9 311.44 L95.4 311.52 L95.9 311.55 L96.4 311.49 L96.9 311.40 L97.4 311.36 L97.9 311.42 L98.4 311.51 L98.9 311.56 L99.4 311.52 L99.9 311.39 L100.4 311.24 L100.9 311.14 L101.4 311.12 L101.9 311.14 L102.4 311.14 L102.9 311.13 L103.4 311.11 L103.9 311.10 L104.4 311.16 L104.9 311.29 L105.4 311.39 L105.9 311.38 L106.4 311.27 L106.9 311.11 L107.4 311.01 L107.9 310.99 L108.4 311.05 L108.9 311.14 L109.4 311.17 L109.9 311.13 L110.4 311.03 L110.9 310.94 L111.4 310.93 L111.9 311.04 L112.4 311.27 L112.9 311.57 L113.4 311.88 L113.9 312.12 L114.4 312.24 L114.9 312.21 L115.4 312.05 L115.9 311.82 L116.4 311.60 L116.9 311.41 L117.4 311.30 L117.9 311.26 L118.4 311.26 L118.9 311.27 L119.4 311.25 L119.9 311.20 L120.4 311.15 L120.9 311.14 L121.4 311.20 L121.9 311.27 L122.4 311.25 L122.9 311.13 L123.4 310.99 L123.9 310.90 L124.4 310.90 L125.0 310.97 L125.5 311.03 L126.0 310.99 L126.5 310.85 L127.0 310.66 L127.5 310.55 L128.0 310.60 L128.5 310.80 L129.0 311.06 L129.5 311.35 L130.0 311.63 L130.5 311.82 L131.0 311.89 L131.5 311.84 L132.0 311.71 L132.5 311.51 L133.0 311.26 L133.5 310.99 L134.0 310.75 L134.5 310.59 L135.0 310.53 L135.5 310.64 L136.0 310.95 L136.5 311.28 L137.0 311.48 L137.5 311.51 L138.0 311.39 L138.5 311.22 L139.0 311.08 L139.5 311.00 L140.0 310.98 L140.5 310.92 L141.0 310.80 L141.5 310.73 L142.0 310.80 L142.5 310.97 L143.0 311.14 L143.5 311.27 L144.0 311.34 L144.5 311.36 L145.0 311.34 L145.5 311.32 L146.0 311.35 L146.5 311.39 L147.0 311.37 L147.5 311.29 L148.0 311.20 L148.5 311.13 L149.0 311.12 L149.5 311.19 L150.0 311.37 L150.5 311.62 L151.0 311.82 L151.5 311.88 L152.0 311.78 L152.5 311.54 L153.0 311.27 L153.5 311.04 L154.0 310.92 L154.5 310.93 L155.0 311.01 L155.5 311.10 L156.0 311.20 L156.5 311.33 L157.0 311.50 L157.5 311.64 L158.0 311.71 L158.5 311.67 L159.0 311.58 L159.5 311.50 L160.0 311.51 L160.5 311.66 L161.0 311.90 L161.5 312.08 L162.0 312.10 L162.5 312.00 L163.0 311.84 L163.5 311.71 L164.0 311.65 L164.5 311.71 L165.0 311.84 L165.5 311.95 L166.0 311.92 L166.5 311.77 L167.0 311.60 L167.5 311.43 L168.0 311.29 L168.5 311.21 L169.0 311.16 L169.5 311.08 L170.0 310.97 L170.5 310.86 L171.0 310.84 L171.5 310.94 L172.0 311.10 L172.5 311.28 L173.0 311.45 L173.5 311.56 L174.0 311.64 L174.5 311.71 L175.0 311.79 L175.5 311.86 L176.0 311.90 L176.5 311.89 L177.0 311.82 L177.5 311.64 L178.0 311.40 L178.5 311.19 L179.0 311.02 L179.5 310.72 L180.0 310.70 L180.5 310.76 L181.0 310.89 L181.5 310.98 L182.0 311.01 L182.5 311.02 L183.0 311.00 L183.5 310.99 L184.1 311.04 L184.6 311.17 L185.1 311.32 L185.6 311.41 L186.1 311.38 L186.6 311.22 L187.1 310.97 L187.6 310.70 L188.1 310.49 L188.6 310.42 L189.1 310.51 L189.6 310.75 L190.1 311.05 L190.6 311.29 L191.1 311.39 L191.6 311.35 L192.1 311.23 L192.6 311.13 L193.1 311.13 L193.6 311.25 L194.1 311.43 L194.6 311.50 L195.1 311.38 L195.6 311.10 L196.1 310.78 L196.6 310.50 L197.1 310.38 L197.6 310.47 L198.1 310.73 L198.6 311.06 L199.1 311.36 L199.6 311.55 L200.1 311.63 L200.6 311.59 L201.1 311.44 L201.6 311.32 L202.1 311.24 L202.6 311.19 L203.1 311.13 L203.6 311.09 L204.1 311.03 L204.6 310.95 L205.1 310.93 L205.6 311.00 L206.1 311.18 L206.6 311.36 L207.1 311.43 L207.6 311.44 L208.1 311.38 L208.6 311.25 L209.1 311.13 L209.6 311.09 L210.1 311.16 L210.6 311.29 L211.1 311.40 L211.6 311.50 L212.1 311.57 L212.6 311.59 L213.1 311.52 L213.6 311.42 L214.1 311.30 L214.6 311.18 L215.1 311.09 L215.6 311.01 L216.1 310.92 L216.6 310.83 L217.1 310.82 L217.6 310.91 L218.1 311.10 L218.6 311.33 L219.1 311.54 L219.6 311.67 L220.1 311.71 L220.6 311.70 L221.1 311.66 L221.6 311.54 L222.1 311.36 L222.6 311.11 L223.1 310.90 L223.6 310.81 L224.1 310.82 L224.6 310.93 L225.1 311.08 L225.6 311.20 L226.1 311.31 L226.6 311.38 L227.1 311.44 L227.6 311.51 L228.1 311.56 L228.6 311.59 L229.1 311.64 L229.6 311.69 L230.1 311.73 L230.6 311.76 L231.1 311.75 L231.6 311.69 L232.1 311.58 L232.6 311.42 L233.1 311.28 L233.6 311.20 L234.1 311.21 L234.6 311.25 L235.1 311.24 L235.6 311.18 L236.1 311.13 L236.6 311.09 L237.1 311.06 L237.6 311.04 L238.1 310.94 L238.6 310.77 L239.1 310.61 L239.6 310.54 L240.1 310.59 L240.6 310.69 L241.1 310.79 L241.6 310.86 L242.1 310.91 L242.7 310.99 L243.2 311.15 L243.7 311.36 L244.2 311.46 L244.7 311.39 L245.2 311.15 L245.7 310.84 L246.2 310.51 L246.7 310.22 L247.2 310.08 L247.7 310.08 L248.2 310.22 L248.7 310.47 L249.2 310.78 L249.7 311.02 L250.2 311.10 L250.7 311.06 L251.2 310.95 L251.7 310.86 L252.2 310.89 L252.7 311.06 L253.2 311.32 L253.7 311.55 L254.2 311.67 L254.7 311.69 L255.2 311.65 L255.7 311.57 L256.2 311.50 L256.7 311.44 L257.2 311.36 L257.7 311.28 L258.2 311.25 L258.7 311.31 L259.2 311.41 L259.7 311.49 L260.2 311.46 L260.7 311.29 L261.2 311.08 L261.7 310.92 L262.2 310.86 L262.7 310.85 L263.2 310.91 L263.7 311.03 L264.2 311.18 L264.7 311.35 L265.2 311.51 L265.7 311.63 L266.2 311.62 L266.7 311.46 L267.2 311.27 L267.7 311.18 L268.2 311.19 L268.7 311.23 L269.2 311.25 L269.7 311.24 L270.2 311.19 L270.7 311.11 L271.2 311.07 L271.7 311.10 L272.2 311.20 L272.7 311.30 L273.2 311.40 L273.7 311.50 L274.2 311.58 L274.7 311.60 L275.2 311.59 L275.7 311.57 L276.2 311.56 L276.7 311.59 L277.2 311.65 L277.7 311.71 L278.2 311.72 L278.7 311.64 L279.2 311.50 L279.7 311.37 L280.2 311.30 L280.7 311.31 L281.2 311.36 L281.7 311.39 L282.2 311.42 L282.7 311.42 L283.2 311.42 L283.7 311.42 L284.2 311.40 L284.7 311.36 L285.2 311.29 L285.7 311.19 L286.2 311.09 L286.7 311.01 L287.2 310.95 L287.7 310.94 L288.2 310.98 L288.7 311.10 L289.2 311.25 L289.7 311.35 L290.2 311.34 L290.7 311.26 L291.2 311.16 L291.7 311.10 L292.2 311.15 L292.7 311.31 L293.2 311.47 L293.7 311.53 L294.2 311.49 L294.7 311.42 L295.2 311.36 L295.7 311.33 L296.2 311.31 L296.7 311.33 L297.2 311.35 L297.7 311.30 L298.2 311.20 L298.7 311.08 L299.2 311.02 L299.7 311.02 L300.2 311.07 L300.7 311.23 L301.2 311.47 L301.8 311.75 L302.3 312.01 L302.8 312.20 L303.3 312.30 L303.8 312.28 L304.3 312.11 L304.8 311.90 L305.3 311.75 L305.8 311.65 L306.3 311.62 L306.8 311.57 L307.3 311.49 L307.8 311.38 L308.3 311.27 L308.8 311.25 L309.3 311.35 L309.8 311.46 L310.3 311.50 L310.8 311.50 L311.3 311.51 L311.8 311.54 L312.3 311.59 L312.8 311.67 L313.3 311.79 L313.8 311.84 L314.3 311.80 L314.8 311.74 L315.3 311.73 L315.8 311.77 L316.3 311.75 L316.8 311.66 L317.3 311.56 L317.8 311.41 L318.3 311.19 L318.8 311.02 L319.3 310.96 L319.8 311.03 L320.3 311.16 L320.8 311.30 L321.3 311.48 L321.8 311.65 L322.3 311.77" stroke="#b46e32" stroke-width="1.1" fill="none"/>
<path d="M36.3 348.53 L36.8 348.69 L37.3 348.82 L37.8 348.93 L38.3 349.03 L38.8 349.10 L39.3 349.14 L39.8 349.19 L40.3 349.24 L40.8 349.28 L41.3 349.32 L41.8 349.28 L42.3 349.13 L42.8 348.88 L43.3 348.58 L43.8 348.29 L44.3 348.07 L44.8 347.95 L45.3 347.95 L45.8 348.00 L46.3 348.04 L46.8 348.06 L47.3 347.99 L47.8 347.79 L48.3 347.49 L48.8 347.14 L49.3 346.78 L49.8 346.45 L50.3 346.18 L50.8 345.94 L51.3 345.73 L51.8 345.49 L52.3 345.22 L52.8 344.92 L53.3 344.60 L53.8 344.23 L54.3 343.87 L54.8 343.53 L55.3 343.21 L55.8 342.90 L56.3 342.64 L56.8 342.40 L57.3 342.17 L57.8 341.89 L58.3 341.54 L58.8 341.16 L59.3 340.79 L59.8 340.44 L60.3 340.16 L60.8 339.92 L61.3 339.70 L61.8 339.48 L62.3 339.22 L62.8 338.91 L63.3 338.59 L63.8 338.26 L64.3 337.91 L64.8 337.59 L65.3 337.33 L65.9 337.13 L66.4 336.96 L66.9 336.81 L67.4 336.68 L67.9 336.53 L68.4 336.31 L68.9 336.04 L69.4 335.73 L69.9 335.38 L70.4 335.01 L70.9 334.67 L71.4 334.45 L71.9 334.32 L72.4 334.22 L72.9 334.09 L73.4 333.91 L73.9 333.68 L74.4 333.44 L74.9 333.22 L75.4 333.03 L75.9 332.87 L76.4 332.72 L76.9 332.58 L77.4 332.44 L77.9 332.33 L78.4 332.20 L78.9 332.05 L79.4 331.87 L79.9 331.67 L80.4 331.48 L80.9 331.32 L81.4 331.19 L81.9 331.09 L82.4 331.01 L82.9 330.91 L83.4 330.82 L83.9 330.77 L84.4 330.76 L84.9 330.77 L85.4 330.79 L85.9 330.80 L86.4 330.77 L86.9 330.70 L87.4 330.56 L87.9 330.41 L88.4 330.24 L88.9 330.04 L89.4 329.87 L89.9 329.77 L90.4 329.77 L90.9 329.83 L91.4 329.87 L91.9 329.86 L92.4 329.79 L92.9 329.67 L93.4 329.50 L93.9 329.34 L94.4 329.23 L94.9 329.14 L95.4 329.06 L95.9 329.03 L96.4 329.07 L96.9 329.16 L97.4 329.27 L97.9 329.37 L98.4 329.41 L98.9 329.37 L99.4 329.29 L99.9 329.22 L100.4 329.16 L100.9 329.08 L101.4 329.01 L101.9 328.96 L102.4 328.91 L102.9 328.90 L103.4 328.94 L103.9 329.00 L104.4 328.99 L104.9 328.88 L105.4 328.72 L105.9 328.55 L106.4 328.42 L106.9 328.33 L107.4 328.33 L107.9 328.40 L108.4 328.48 L108.9 328.54 L109.4 328.60 L109.9 328.63 L110.4 328.59 L110.9 328.52 L111.4 328.44 L111.9 328.39 L112.4 328.42 L112.9 328.54 L113.4 328.71 L113.9 328.91 L114.4 329.08 L114.9 329.20 L115.4 329.29 L115.9 329.40 L116.4 329.56 L116.9 329.76 L117.4 329.95 L117.9 330.13 L118.4 330.29 L118.9 330.43 L119.4 330.56 L119.9 330.72 L120.4 330.95 L120.9 331.26 L121.4 331.61 L121.9 331.98 L122.4 332.35 L122.9 332.71 L123.4 333.05 L123.9 333.37 L124.4 333.70 L125.0 333.99 L125.5 334.22 L126.0 334.40 L126.5 334.56 L127.0 334.78 L127.5 335.07 L128.0 335.42 L128.5 335.82 L129.0 336.22 L129.5 336.58 L130.0 336.91 L130.5 337.25 L131.0 337.65 L131.5 338.08 L132.0 338.54 L132.5 338.97 L133.0 339.35 L133.5 339.69 L134.0 340.04 L134.5 340.38 L135.0 340.76 L135.5 341.16 L136.0 341.55 L136.5 341.84 L137.0 342.00 L137.5 342.05 L138.0 342.07 L138.5 342.13 L139.0 342.27 L139.5 342.51 L140.0 342.80 L140.5 343.06 L141.0 343.28 L141.5 343.45 L142.0 343.64 L142.5 343.86 L143.0 344.07 L143.5 344.25 L144.0 344.36 L144.5 344.43 L145.0 344.50 L145.5 344.61 L146.0 344.80 L146.5 345.06 L147.0 345.37 L147.5 345.69 L148.0 346.01 L148.5 346.27 L149.0 346.45 L149.5 346.53 L150.0 346.53 L150.5 346.47 L151.0 346.39 L151.5 346.37 L152.0 346.44 L152.5 346.60 L153.0 346.82 L153.5 347.06 L154.0 347.28 L154.5 347.44 L155.0 347.55 L155.5 347.62 L156.0 347.69 L156.5 347.74 L157.0 347.76 L157.5 347.74 L158.0 347.70 L158.5 347.67 L159.0 347.69 L159.5 347.77 L160.0 347.89 L160.5 348.01 L161.0 348.10 L161.5 348.17 L162.0 348.21 L162.5 348.27 L163.0 348.35 L163.5 348.44 L164.0 348.48 L164.5 348.51 L165.0 348.53 L165.5 348.54 L166.0 348.53 L166.5 348.55 L167.0 348.62 L167.5 348.73 L168.0 348.85 L168.5 348.96 L169.0 349.06 L169.5 349.10 L170.0 349.07 L170.5 349.03 L171.0 349.03 L171.5 349.05 L172.0 349.04 L172.5 348.98 L173.0 348.89 L173.5 348.79 L174.0 348.72 L174.5 348.70 L175.0 348.71 L175.5 348.75 L176.0 348.81 L176.5 348.87 L177.0 348.92 L177.5 348.95 L178.0 348.95 L178.5 348.92 L179.0 348.87 L179.5 348.30 L180.0 348.28 L180.5 348.30 L181.0 348.34 L181.5 348.54 L182.0 348.78 L182.5 349.00 L183.0 349.19 L183.5 349.33 L184.1 349.43 L184.6 349.51 L185.1 349.54 L185.6 349.50 L186.1 349.40 L186.6 349.28 L187.1 349.14 L187.6 349.03 L188.1 348.97 L188.6 348.95 L189.1 348.92 L189.6 348.85 L190.1 348.71 L190.6 348.52 L191.1 348.33 L191.6 348.20 L192.1 348.17 L192.6 348.15 L193.1 348.05 L193.6 347.83 L194.1 347.48 L194.6 347.07 L195.1 346.65 L195.6 346.25 L196.1 345.91 L196.6 345.60 L197.1 345.31 L197.6 345.04 L198.1 344.80 L198.6 344.58 L199.1 344.36 L199.6 344.09 L200.1 343.77 L200.6 343.43 L201.1 343.06 L201.6 342.71 L202.1 342.40 L202.6 342.13 L203.1 341.89 L203.6 341.63 L204.1 341.36 L204.6 341.06 L205.1 340.73 L205.6 340.37 L206.1 340.03 L206.6 339.74 L207.1 339.48 L207.6 339.23 L208.1 339.01 L208.6 338.79 L209.1 338.54 L209.6 338.24 L210.1 337.94 L210.6 337.67 L211.1 337.42 L211.6 337.16 L212.1 336.92 L212.6 336.72 L213.1 336.52 L213.6 336.31 L214.1 336.08 L214.6 335.84 L215.1 335.59 L215.6 335.34 L216.1 335.10 L216.6 334.90 L217.1 334.71 L217.6 334.50 L218.1 334.25 L218.6 333.98 L219.1 333.73 L219.6 333.54 L220.1 333.40 L220.6 333.31 L221.1 333.24 L221.6 333.16 L222.1 333.05 L222.6 332.90 L223.1 332.74 L223.6 332.61 L224.1 332.50 L224.6 332.41 L225.1 332.30 L225.6 332.16 L226.1 331.99 L226.6 331.83 L227.1 331.69 L227.6 331.61 L228.1 331.60 L228.6 331.59 L229.1 331.55 L229.6 331.46 L230.1 331.33 L230.6 331.22 L231.1 331.12 L231.6 331.03 L232.1 330.93 L232.6 330.82 L233.1 330.72 L233.6 330.68 L234.1 330.70 L234.6 330.77 L235.1 330.85 L235.6 330.88 L236.1 330.83 L236.6 330.68 L237.1 330.48 L237.6 330.30 L238.1 330.15 L238.6 330.04 L239.1 329.94 L239.6 329.83 L240.1 329.71 L240.6 329.64 L241.1 329.63 L241.6 329.69 L242.1 329.77 L242.7 329.79 L243.2 329.73 L243.7 329.60 L244.2 329.47 L244.7 329.42 L245.2 329.45 L245.7 329.52 L246.2 329.58 L246.7 329.61 L247.2 329.63 L247.7 329.63 L248.2 329.63 L248.7 329.61 L249.2 329.57 L249.7 329.49 L250.2 329.36 L250.7 329.24 L251.2 329.15 L251.7 329.10 L252.2 329.12 L252.7 329.19 L253.2 329.29 L253.7 329.35 L254.2 329.36 L254.7 329.34 L255.2 329.30 L255.7 329.28 L256.2 329.29 L256.7 329.34 L257.2 329.40 L257.7 329.44 L258.2 329.49 L258.7 329.55 L259.2 329.64 L259.7 329.74 L260.2 329.84 L260.7 329.93 L261.2 330.02 L261.7 330.12 L262.2 330.26 L262.7 330.45 L263.2 330.70 L263.7 330.96 L264.2 331.18 L264.7 331.37 L265.2 331.57 L265.7 331.82 L266.2 332.15 L266.7 332.53 L267.2 332.93 L267.7 333.29 L268.2 333.57 L268.7 333.82 L269.2 334.07 L269.7 334.33 L270.2 334.61 L270.7 334.92 L271.2 335.24 L271.7 335.56 L272.2 335.87 L272.7 336.15 L273.2 336.40 L273.7 336.66 L274.2 336.93 L274.7 337.25 L275.2 337.62 L275.7 338.03 L276.2 338.47 L276.7 338.89 L277.2 339.32 L277.7 339.79 L278.2 340.31 L278.7 340.80 L279.2 341.20 L279.7 341.44 L280.2 341.55 L280.7 341.58 L281.2 341.61 L281.7 341.73 L282.2 341.95 L282.7 342.24 L283.2 342.55 L283.7 342.85 L284.2 343.10 L284.7 343.31 L285.2 343.50 L285.7 343.68 L286.2 343.85 L286.7 344.00 L287.2 344.14 L287.7 344.24 L288.2 344.35 L288.7 344.46 L289.2 344.58 L289.7 344.76 L290.2 344.98 L290.7 345.19 L291.2 345.35 L291.7 345.46 L292.2 345.56 L292.7 345.69 L293.2 345.85 L293.7 346.06 L294.2 346.32 L294.7 346.56 L295.2 346.74 L295.7 346.86 L296.2 346.94 L296.7 347.01 L297.2 347.10 L297.7 347.19 L298.2 347.30 L298.7 347.41 L299.2 347.52 L299.7 347.64 L300.2 347.77 L300.7 347.90 L301.2 347.99 L301.8 348.03 L302.3 348.05 L302.8 348.06 L303.3 348.10 L303.8 348.14 L304.3 348.19 L304.8 348.21 L305.3 348.17 L305.8 348.05 L306.3 347.93 L306.8 347.85 L307.3 347.86 L307.8 347.98 L308.3 348.16 L308.8 348.36 L309.3 348.52 L309.8 348.60 L310.3 348.64 L310.8 348.65 L311.3 348.63 L311.8 348.60 L312.3 348.59 L312.8 348.58 L313.3 348.59 L313.8 348.60 L314.3 348.62 L314.8 348.63 L315.3 348.64 L315.8 348.70 L316.3 348.83 L316.8 348.97 L317.3 349.10 L317.8 349.18 L318.3 349.21 L318.8 349.21 L319.3 349.22 L319.8 349.23 L320.3 349.23 L320.8 349.17 L321.3 349.07 L321.8 348.97 L322.3 348.76" stroke="#222222" stroke-width="1.1" fill="none"/>
<path d="M36.3 374.50 L36.8 374.48 L37.3 374.53 L37.8 374.63 L38.3 374.75 L38.8 374.85 L39.3 374.89 L39.8 374.87 L40.3 374.82 L40.8 374.69 L41.3 374.51 L41.8 374.31 L42.3 374.09 L42.8 373.85 L43.3 373.61 L43.8 373.37 L44.3 373.13 L44.8 372.92 L45.3 372.72 L45.8 372.50 L46.3 372.24 L46.8 371.93 L47.3 371.60 L47.8 371.23 L48.3 370.81 L48.8 370.35 L49.3 369.88 L49.8 369.43 L50.3 369.00 L50.8 368.59 L51.3 368.19 L51.8 367.80 L52.3 367.36 L52.8 366.86 L53.3 366.31 L53.8 365.74 L54.3 365.18 L54.8 364.61 L55.3 364.03 L55.8 363.43 L56.3 362.82 L56.8 362.22 L57.3 361.65 L57.8 361.12 L58.3 360.61 L58.8 360.09 L59.3 359.55 L59.8 358.97 L60.3 358.36 L60.8 357.75 L61.3 357.19 L61.8 356.69 L62.3 356.29 L62.8 355.94 L63.3 355.64 L63.8 355.36 L64.3 355.08 L64.8 354.75 L65.3 354.38 L65.9 353.97 L66.4 353.57 L66.9 353.16 L67.4 352.76 L67.9 352.41 L68.4 352.11 L68.9 351.82 L69.4 351.52 L69.9 351.23 L70.4 350.93 L70.9 350.63 L71.4 350.36 L71.9 350.13 L72.4 349.93 L72.9 349.72 L73.4 349.50 L73.9 349.29 L74.4 349.06 L74.9 348.82 L75.4 348.62 L75.9 348.48 L76.4 348.40 L76.9 348.33 L77.4 348.24 L77.9 348.11 L78.4 347.91 L78.9 347.63 L79.4 347.33 L79.9 347.06 L80.4 346.83 L80.9 346.63 L81.4 346.48 L81.9 346.35 L82.4 346.24 L82.9 346.13 L83.4 346.01 L83.9 345.87 L84.4 345.72 L84.9 345.56 L85.4 345.38 L85.9 345.23 L86.4 345.12 L86.9 345.04 L87.4 344.98 L87.9 344.92 L88.4 344.83 L88.9 344.74 L89.4 344.63 L89.9 344.53 L90.4 344.46 L90.9 344.39 L91.4 344.28 L91.9 344.11 L92.4 343.91 L92.9 343.71 L93.4 343.55 L93.9 343.43 L94.4 343.33 L94.9 343.24 L95.4 343.14 L95.9 343.04 L96.4 342.95 L96.9 342.88 L97.4 342.80 L97.9 342.70 L98.4 342.59 L98.9 342.48 L99.4 342.40 L99.9 342.36 L100.4 342.35 L100.9 342.33 L101.4 342.25 L101.9 342.09 L102.4 341.91 L102.9 341.75 L103.4 341.63 L103.9 341.59 L104.4 341.61 L104.9 341.65 L105.4 341.67 L105.9 341.64 L106.4 341.57 L106.9 341.50 L107.4 341.45 L107.9 341.42 L108.4 341.41 L108.9 341.40 L109.4 341.39 L109.9 341.37 L110.4 341.33 L110.9 341.30 L111.4 341.31 L111.9 341.38 L112.4 341.50 L112.9 341.67 L113.4 341.89 L113.9 342.13 L114.4 342.35 L114.9 342.56 L115.4 342.78 L115.9 343.05 L116.4 343.37 L116.9 343.71 L117.4 344.06 L117.9 344.41 L118.4 344.82 L118.9 345.28 L119.4 345.77 L119.9 346.29 L120.4 346.81 L120.9 347.31 L121.4 347.77 L121.9 348.20 L122.4 348.65 L122.9 349.14 L123.4 349.67 L123.9 350.24 L124.4 350.81 L125.0 351.38 L125.5 351.94 L126.0 352.52 L126.5 353.10 L127.0 353.66 L127.5 354.21 L128.0 354.79 L128.5 355.42 L129.0 356.12 L129.5 356.90 L130.0 357.72 L130.5 358.53 L131.0 359.28 L131.5 359.96 L132.0 360.62 L132.5 361.30 L133.0 361.98 L133.5 362.61 L134.0 363.13 L134.5 363.56 L135.0 363.92 L135.5 364.24 L136.0 364.55 L136.5 364.92 L137.0 365.34 L137.5 365.78 L138.0 366.24 L138.5 366.71 L139.0 367.14 L139.5 367.51 L140.0 367.80 L140.5 368.05 L141.0 368.28 L141.5 368.49 L142.0 368.70 L142.5 368.92 L143.0 369.15 L143.5 369.36 L144.0 369.58 L144.5 369.80 L145.0 370.01 L145.5 370.21 L146.0 370.38 L146.5 370.52 L147.0 370.64 L147.5 370.73 L148.0 370.85 L148.5 371.03 L149.0 371.27 L149.5 371.54 L150.0 371.81 L150.5 372.01 L151.0 372.16 L151.5 372.28 L152.0 372.41 L152.5 372.57 L153.0 372.75 L153.5 372.94 L154.0 373.10 L154.5 373.23 L155.0 373.35 L155.5 373.47 L156.0 373.59 L156.5 373.70 L157.0 373.79 L157.5 373.86 L158.0 373.92 L158.5 373.99 L159.0 374.10 L159.5 374.24 L160.0 374.38 L160.5 374.50 L161.0 374.58 L161.5 374.60 L162.0 374.59 L162.5 374.55 L163.0 374.51 L163.5 374.47 L164.0 374.44 L164.5 374.47 L165.0 374.52 L165.5 374.57 L166.0 374.64 L166.5 374.70 L167.0 374.73 L167.5 374.75 L168.0 374.79 L168.5 374.86 L169.0 374.96 L169.5 375.05 L170.0 375.09 L170.5 375.08 L171.0 375.03 L171.5 374.94 L172.0 374.85 L172.5 374.78 L173.0 374.79 L173.5 374.86 L174.0 374.96 L174.5 375.07 L175.0 375.14 L175.5 375.17 L176.0 375.13 L176.5 375.06 L177.0 375.01 L177.5 374.96 L178.0 374.91 L178.5 374.84 L179.0 374.80 L179.5 374.60 L180.0 374.66 L180.5 374.75 L181.0 374.84 L181.5 374.90 L182.0 374.91 L182.5 374.86 L183.0 374.79 L183.5 374.71 L184.1 374.64 L184.6 374.60 L185.1 374.60 L185.6 374.57 L186.1 374.52 L186.6 374.48 L187.1 374.41 L187.6 374.26 L188.1 374.06 L188.6 373.80 L189.1 373.47 L189.6 373.12 L190.1 372.80 L190.6 372.56 L191.1 372.37 L191.6 372.17 L192.1 371.94 L192.6 371.64 L193.1 371.27 L193.6 370.82 L194.1 370.33 L194.6 369.81 L195.1 369.28 L195.6 368.77 L196.1 368.28 L196.6 367.81 L197.1 367.36 L197.6 366.89 L198.1 366.42 L198.6 365.96 L199.1 365.51 L199.6 365.04 L200.1 364.54 L200.6 363.99 L201.1 363.41 L201.6 362.76 L202.1 362.07 L202.6 361.40 L203.1 360.77 L203.6 360.20 L204.1 359.68 L204.6 359.22 L205.1 358.76 L205.6 358.27 L206.1 357.75 L206.6 357.24 L207.1 356.79 L207.6 356.42 L208.1 356.13 L208.6 355.89 L209.1 355.62 L209.6 355.27 L210.1 354.83 L210.6 354.35 L211.1 353.92 L211.6 353.56 L212.1 353.26 L212.6 352.99 L213.1 352.72 L213.6 352.41 L214.1 352.06 L214.6 351.71 L215.1 351.39 L215.6 351.12 L216.1 350.87 L216.6 350.63 L217.1 350.40 L217.6 350.16 L218.1 349.88 L218.6 349.60 L219.1 349.37 L219.6 349.18 L220.1 349.03 L220.6 348.91 L221.1 348.79 L221.6 348.64 L222.1 348.46 L222.6 348.29 L223.1 348.13 L223.6 347.98 L224.1 347.84 L224.6 347.69 L225.1 347.55 L225.6 347.43 L226.1 347.33 L226.6 347.25 L227.1 347.16 L227.6 347.05 L228.1 346.92 L228.6 346.79 L229.1 346.67 L229.6 346.55 L230.1 346.41 L230.6 346.26 L231.1 346.12 L231.6 345.98 L232.1 345.84 L232.6 345.69 L233.1 345.52 L233.6 345.32 L234.1 345.13 L234.6 345.01 L235.1 344.93 L235.6 344.87 L236.1 344.79 L236.6 344.67 L237.1 344.52 L237.6 344.36 L238.1 344.23 L238.6 344.16 L239.1 344.13 L239.6 344.12 L240.1 344.10 L240.6 344.07 L241.1 344.00 L241.6 343.88 L242.1 343.72 L242.7 343.54 L243.2 343.40 L243.7 343.30 L244.2 343.24 L244.7 343.19 L245.2 343.14 L245.7 343.03 L246.2 342.83 L246.7 342.61 L247.2 342.42 L247.7 342.28 L248.2 342.21 L248.7 342.17 L249.2 342.17 L249.7 342.16 L250.2 342.13 L250.7 342.11 L251.2 342.08 L251.7 342.04 L252.2 341.98 L252.7 341.91 L253.2 341.85 L253.7 341.82 L254.2 341.77 L254.7 341.71 L255.2 341.66 L255.7 341.65 L256.2 341.69 L256.7 341.79 L257.2 341.92 L257.7 342.09 L258.2 342.28 L258.7 342.48 L259.2 342.68 L259.7 342.94 L260.2 343.23 L260.7 343.57 L261.2 343.94 L261.7 344.35 L262.2 344.75 L262.7 345.09 L263.2 345.41 L263.7 345.78 L264.2 346.20 L264.7 346.67 L265.2 347.16 L265.7 347.65 L266.2 348.12 L266.7 348.57 L267.2 349.04 L267.7 349.56 L268.2 350.12 L268.7 350.67 L269.2 351.20 L269.7 351.74 L270.2 352.29 L270.7 352.83 L271.2 353.37 L271.7 353.90 L272.2 354.43 L272.7 354.99 L273.2 355.60 L273.7 356.27 L274.2 356.98 L274.7 357.72 L275.2 358.48 L275.7 359.22 L276.2 359.94 L276.7 360.60 L277.2 361.22 L277.7 361.78 L278.2 362.30 L278.7 362.78 L279.2 363.23 L279.7 363.68 L280.2 364.13 L280.7 364.59 L281.2 365.06 L281.7 365.54 L282.2 366.02 L282.7 366.46 L283.2 366.85 L283.7 367.19 L284.2 367.49 L284.7 367.76 L285.2 368.01 L285.7 368.25 L286.2 368.49 L286.7 368.72 L287.2 368.92 L287.7 369.14 L288.2 369.39 L288.7 369.63 L289.2 369.85 L289.7 370.01 L290.2 370.13 L290.7 370.22 L291.2 370.31 L291.7 370.46 L292.2 370.69 L292.7 370.96 L293.2 371.21 L293.7 371.42 L294.2 371.62 L294.7 371.80 L295.2 371.97 L295.7 372.12 L296.2 372.27 L296.7 372.39 L297.2 372.50 L297.7 372.62 L298.2 372.80 L298.7 373.02 L299.2 373.26 L299.7 373.47 L300.2 373.62 L300.7 373.72 L301.2 373.80 L301.8 373.87 L302.3 373.96 L302.8 374.05 L303.3 374.15 L303.8 374.23 L304.3 374.26 L304.8 374.23 L305.3 374.19 L305.8 374.15 L306.3 374.14 L306.8 374.19 L307.3 374.30 L307.8 374.43 L308.3 374.53 L308.8 374.57 L309.3 374.54 L309.8 374.47 L310.3 374.40 L310.8 374.38 L311.3 374.40 L311.8 374.45 L312.3 374.51 L312.8 374.58 L313.3 374.67 L313.8 374.77 L314.3 374.87 L314.8 374.96 L315.3 375.04 L315.8 375.12 L316.3 375.19 L316.8 375.25 L317.3 375.28 L317.8 375.26 L318.3 375.22 L318.8 375.17 L319.3 375.14 L319.8 375.10 L320.3 375.04 L320.8 374.91 L321.3 374.75 L321.8 374.63 L322.3 374.53" stroke="#3b3bf5" stroke-width="1.1" fill="none"/>
<path d="M36.3 393.59 L36.8 393.58 L37.3 393.55 L37.8 393.54 L38.3 393.54 L38.8 393.50 L39.3 393.39 L39.8 393.22 L40.3 393.00 L40.8 392.71 L41.3 392.39 L41.8 392.06 L42.3 391.69 L42.8 391.30 L43.3 390.91 L43.8 390.52 L44.3 390.13 L44.8 389.72 L45.3 389.31 L45.8 388.89 L46.3 388.44 L46.8 387.99 L47.3 387.54 L47.8 387.06 L48.3 386.54 L48.8 385.97 L49.3 385.40 L49.8 384.85 L50.3 384.31 L50.8 383.77 L51.3 383.22 L51.8 382.67 L52.3 382.10 L52.8 381.55 L53.3 381.01 L53.8 380.45 L54.3 379.85 L54.8 379.16 L55.3 378.40 L55.8 377.64 L56.3 376.94 L56.8 376.32 L57.3 375.79 L57.8 375.34 L58.3 374.90 L58.8 374.43 L59.3 373.91 L59.8 373.33 L60.3 372.70 L60.8 372.04 L61.3 371.40 L61.8 370.84 L62.3 370.38 L62.8 369.96 L63.3 369.57 L63.8 369.17 L64.3 368.70 L64.8 368.21 L65.3 367.76 L65.9 367.35 L66.4 367.00 L66.9 366.68 L67.4 366.35 L67.9 366.01 L68.4 365.66 L68.9 365.27 L69.4 364.89 L69.9 364.52 L70.4 364.15 L70.9 363.79 L71.4 363.47 L71.9 363.17 L72.4 362.90 L72.9 362.65 L73.4 362.43 L73.9 362.21 L74.4 361.99 L74.9 361.75 L75.4 361.51 L75.9 361.27 L76.4 361.03 L76.9 360.81 L77.4 360.59 L77.9 360.37 L78.4 360.12 L78.9 359.86 L79.4 359.58 L79.9 359.29 L80.4 359.01 L80.9 358.76 L81.4 358.57 L81.9 358.42 L82.4 358.29 L82.9 358.16 L83.4 358.01 L83.9 357.84 L84.4 357.66 L84.9 357.47 L85.4 357.24 L85.9 356.97 L86.4 356.67 L86.9 356.39 L87.4 356.15 L87.9 355.93 L88.4 355.72 L88.9 355.55 L89.4 355.42 L89.9 355.31 L90.4 355.23 L90.9 355.16 L91.4 355.09 L91.9 354.95 L92.4 354.77 L92.9 354.60 L93.4 354.47 L93.9 354.39 L94.4 354.34 L94.9 354.29 L95.4 354.21 L95.9 354.09 L96.4 353.94 L96.9 353.79 L97.4 353.68 L97.9 353.64 L98.4 353.63 L98.9 353.64 L99.4 353.62 L99.9 353.60 L100.4 353.54 L100.9 353.42 L101.4 353.24 L101.9 353.01 L102.4 352.73 L102.9 352.46 L103.4 352.27 L103.9 352.18 L104.4 352.19 L104.9 352.22 L105.4 352.23 L105.9 352.15 L106.4 352.01 L106.9 351.83 L107.4 351.69 L107.9 351.60 L108.4 351.54 L108.9 351.48 L109.4 351.40 L109.9 351.28 L110.4 351.16 L110.9 351.08 L111.4 351.09 L111.9 351.19 L112.4 351.37 L112.9 351.60 L113.4 351.88 L113.9 352.21 L114.4 352.57 L114.9 352.97 L115.4 353.39 L115.9 353.83 L116.4 354.28 L116.9 354.72 L117.4 355.18 L117.9 355.64 L118.4 356.19 L118.9 356.83 L119.4 357.53 L119.9 358.28 L120.4 359.04 L120.9 359.78 L121.4 360.52 L121.9 361.28 L122.4 362.07 L122.9 362.88 L123.4 363.73 L123.9 364.60 L124.4 365.49 L125.0 366.33 L125.5 367.13 L126.0 367.90 L126.5 368.64 L127.0 369.38 L127.5 370.20 L128.0 371.09 L128.5 372.02 L129.0 372.96 L129.5 373.88 L130.0 374.81 L130.5 375.72 L131.0 376.60 L131.5 377.43 L132.0 378.17 L132.5 378.82 L133.0 379.43 L133.5 380.05 L134.0 380.69 L134.5 381.36 L135.0 382.04 L135.5 382.71 L136.0 383.35 L136.5 383.92 L137.0 384.38 L137.5 384.76 L138.0 385.11 L138.5 385.42 L139.0 385.66 L139.5 385.88 L140.0 386.09 L140.5 386.30 L141.0 386.51 L141.5 386.75 L142.0 387.01 L142.5 387.27 L143.0 387.51 L143.5 387.74 L144.0 387.94 L144.5 388.13 L145.0 388.31 L145.5 388.48 L146.0 388.65 L146.5 388.83 L147.0 389.04 L147.5 389.25 L148.0 389.45 L148.5 389.66 L149.0 389.87 L149.5 390.07 L150.0 390.26 L150.5 390.42 L151.0 390.58 L151.5 390.72 L152.0 390.86 L152.5 391.03 L153.0 391.24 L153.5 391.44 L154.0 391.59 L154.5 391.69 L155.0 391.76 L155.5 391.84 L156.0 391.97 L156.5 392.16 L157.0 392.35 L157.5 392.49 L158.0 392.55 L158.5 392.57 L159.0 392.59 L159.5 392.62 L160.0 392.67 L160.5 392.74 L161.0 392.82 L161.5 392.90 L162.0 392.95 L162.5 392.96 L163.0 392.95 L163.5 392.93 L164.0 392.93 L164.5 392.96 L165.0 393.04 L165.5 393.15 L166.0 393.25 L166.5 393.31 L167.0 393.34 L167.5 393.34 L168.0 393.32 L168.5 393.30 L169.0 393.31 L169.5 393.34 L170.0 393.36 L170.5 393.34 L171.0 393.26 L171.5 393.13 L172.0 393.02 L172.5 393.00 L173.0 393.06 L173.5 393.20 L174.0 393.38 L174.5 393.54 L175.0 393.65 L175.5 393.74 L176.0 393.81 L176.5 393.85 L177.0 393.85 L177.5 393.82 L178.0 393.78 L178.5 393.74 L179.0 393.72 L179.5 393.73 L180.0 393.74 L180.5 393.73 L181.0 393.69 L181.5 393.64 L182.0 393.60 L182.5 393.59 L183.0 393.61 L183.5 393.60 L184.1 393.54 L184.6 393.43 L185.1 393.26 L185.6 392.99 L186.1 392.67 L186.6 392.31 L187.1 391.94 L187.6 391.55 L188.1 391.16 L188.6 390.79 L189.1 390.41 L189.6 390.02 L190.1 389.60 L190.6 389.14 L191.1 388.64 L191.6 388.14 L192.1 387.66 L192.6 387.22 L193.1 386.79 L193.6 386.34 L194.1 385.87 L194.6 385.34 L195.1 384.78 L195.6 384.21 L196.1 383.65 L196.6 383.08 L197.1 382.47 L197.6 381.83 L198.1 381.17 L198.6 380.50 L199.1 379.86 L199.6 379.27 L200.1 378.72 L200.6 378.18 L201.1 377.63 L201.6 377.07 L202.1 376.51 L202.6 375.93 L203.1 375.36 L203.6 374.82 L204.1 374.30 L204.6 373.78 L205.1 373.25 L205.6 372.71 L206.1 372.16 L206.6 371.58 L207.1 370.98 L207.6 370.41 L208.1 369.90 L208.6 369.43 L209.1 369.00 L209.6 368.61 L210.1 368.23 L210.6 367.86 L211.1 367.50 L211.6 367.13 L212.1 366.76 L212.6 366.35 L213.1 365.91 L213.6 365.47 L214.1 365.10 L214.6 364.80 L215.1 364.59 L215.6 364.40 L216.1 364.19 L216.6 363.93 L217.1 363.62 L217.6 363.30 L218.1 363.01 L218.6 362.79 L219.1 362.62 L219.6 362.47 L220.1 362.27 L220.6 361.99 L221.1 361.64 L221.6 361.26 L222.1 360.91 L222.6 360.63 L223.1 360.47 L223.6 360.38 L224.1 360.29 L224.6 360.15 L225.1 359.94 L225.6 359.68 L226.1 359.40 L226.6 359.12 L227.1 358.88 L227.6 358.67 L228.1 358.49 L228.6 358.33 L229.1 358.16 L229.6 357.99 L230.1 357.82 L230.6 357.63 L231.1 357.40 L231.6 357.17 L232.1 356.96 L232.6 356.81 L233.1 356.69 L233.6 356.58 L234.1 356.47 L234.6 356.35 L235.1 356.21 L235.6 356.05 L236.1 355.90 L236.6 355.76 L237.1 355.63 L237.6 355.50 L238.1 355.37 L238.6 355.26 L239.1 355.15 L239.6 355.02 L240.1 354.88 L240.6 354.75 L241.1 354.61 L241.6 354.48 L242.1 354.36 L242.7 354.24 L243.2 354.14 L243.7 354.05 L244.2 353.98 L244.7 353.91 L245.2 353.84 L245.7 353.74 L246.2 353.61 L246.7 353.46 L247.2 353.31 L247.7 353.15 L248.2 353.00 L248.7 352.85 L249.2 352.73 L249.7 352.63 L250.2 352.53 L250.7 352.43 L251.2 352.33 L251.7 352.25 L252.2 352.20 L252.7 352.18 L253.2 352.17 L253.7 352.14 L254.2 352.06 L254.7 351.92 L255.2 351.77 L255.7 351.64 L256.2 351.59 L256.7 351.64 L257.2 351.78 L257.7 352.00 L258.2 352.29 L258.7 352.64 L259.2 353.03 L259.7 353.47 L260.2 353.93 L260.7 354.40 L261.2 354.89 L261.7 355.40 L262.2 355.87 L262.7 356.27 L263.2 356.66 L263.7 357.11 L264.2 357.63 L264.7 358.25 L265.2 358.99 L265.7 359.82 L266.2 360.66 L266.7 361.49 L267.2 362.31 L267.7 363.11 L268.2 363.90 L268.7 364.67 L269.2 365.47 L269.7 366.32 L270.2 367.21 L270.7 368.12 L271.2 369.00 L271.7 369.83 L272.2 370.65 L272.7 371.48 L273.2 372.34 L273.7 373.22 L274.2 374.09 L274.7 374.94 L275.2 375.76 L275.7 376.55 L276.2 377.31 L276.7 378.03 L277.2 378.73 L277.7 379.42 L278.2 380.11 L278.7 380.78 L279.2 381.40 L279.7 381.97 L280.2 382.50 L280.7 383.04 L281.2 383.61 L281.7 384.18 L282.2 384.70 L282.7 385.14 L283.2 385.48 L283.7 385.76 L284.2 386.03 L284.7 386.33 L285.2 386.69 L285.7 387.02 L286.2 387.27 L286.7 387.43 L287.2 387.54 L287.7 387.63 L288.2 387.75 L288.7 387.94 L289.2 388.17 L289.7 388.38 L290.2 388.56 L290.7 388.70 L291.2 388.82 L291.7 388.93 L292.2 389.05 L292.7 389.20 L293.2 389.41 L293.7 389.67 L294.2 389.98 L294.7 390.29 L295.2 390.55 L295.7 390.74 L296.2 390.91 L296.7 391.09 L297.2 391.29 L297.7 391.50 L298.2 391.71 L298.7 391.87 L299.2 391.96 L299.7 392.02 L300.2 392.09 L300.7 392.19 L301.2 392.30 L301.8 392.42 L302.3 392.51 L302.8 392.55 L303.3 392.54 L303.8 392.52 L304.3 392.52 L304.8 392.56 L305.3 392.63 L305.8 392.72 L306.3 392.79 L306.8 392.83 L307.3 392.87 L307.8 392.92 L308.3 393.01 L308.8 393.13 L309.3 393.24 L309.8 393.33 L310.3 393.39 L310.8 393.42 L311.3 393.43 L311.8 393.44 L312.3 393.45 L312.8 393.46 L313.3 393.44 L313.8 393.42 L314.3 393.40 L314.8 393.38 L315.3 393.35 L315.8 393.33 L316.3 393.34 L316.8 393.38 L317.3 393.42 L317.8 393.43 L318.3 393.41 L318.8 393.38 L319.3 393.37 L319.8 393.41 L320.3 393.48 L320.8 393.59 L321.3 393.68 L321.8 393.72 L322.3 393.72" stroke="#9128d2" stroke-width="1.1" fill="none"/>
<path d="M36.3 406.56 L36.8 406.61 L37.3 406.58 L37.8 406.49 L38.3 406.36 L38.8 406.21 L39.3 406.04 L39.8 405.82 L40.3 405.55 L40.8 405.20 L41.3 404.68 L41.8 404.06 L42.3 403.40 L42.8 402.77 L43.3 402.27 L43.8 401.90 L44.3 401.59 L44.8 401.26 L45.3 400.87 L45.8 400.38 L46.3 399.81 L46.8 399.23 L47.3 398.71 L47.8 398.30 L48.3 397.95 L48.8 397.60 L49.3 397.24 L49.8 396.84 L50.3 396.40 L50.8 395.91 L51.3 395.34 L51.8 394.71 L52.3 394.05 L52.8 393.37 L53.3 392.70 L53.8 392.07 L54.3 391.49 L54.8 390.95 L55.3 390.43 L55.8 389.90 L56.3 389.34 L56.8 388.71 L57.3 388.04 L57.8 387.37 L58.3 386.75 L58.8 386.19 L59.3 385.68 L59.8 385.20 L60.3 384.70 L60.8 384.17 L61.3 383.65 L61.8 383.15 L62.3 382.66 L62.8 382.21 L63.3 381.83 L63.8 381.52 L64.3 381.26 L64.8 380.99 L65.3 380.69 L65.9 380.33 L66.4 379.94 L66.9 379.52 L67.4 379.11 L67.9 378.75 L68.4 378.45 L68.9 378.19 L69.4 377.93 L69.9 377.69 L70.4 377.45 L70.9 377.18 L71.4 376.88 L71.9 376.59 L72.4 376.33 L72.9 376.09 L73.4 375.85 L73.9 375.61 L74.4 375.36 L74.9 375.06 L75.4 374.74 L75.9 374.44 L76.4 374.14 L76.9 373.84 L77.4 373.54 L77.9 373.25 L78.4 373.00 L78.9 372.76 L79.4 372.53 L79.9 372.29 L80.4 372.04 L80.9 371.78 L81.4 371.53 L81.9 371.31 L82.4 371.10 L82.9 370.92 L83.4 370.74 L83.9 370.56 L84.4 370.36 L84.9 370.15 L85.4 369.91 L85.9 369.64 L86.4 369.31 L86.9 368.94 L87.4 368.53 L87.9 368.14 L88.4 367.79 L88.9 367.47 L89.4 367.19 L89.9 366.91 L90.4 366.61 L90.9 366.27 L91.4 365.89 L91.9 365.53 L92.4 365.20 L92.9 364.93 L93.4 364.69 L93.9 364.47 L94.4 364.27 L94.9 364.09 L95.4 363.89 L95.9 363.69 L96.4 363.49 L96.9 363.33 L97.4 363.23 L97.9 363.16 L98.4 363.11 L98.9 363.05 L99.4 362.94 L99.9 362.77 L100.4 362.60 L100.9 362.43 L101.4 362.30 L101.9 362.20 L102.4 362.10 L102.9 362.00 L103.4 361.92 L103.9 361.85 L104.4 361.84 L104.9 361.85 L105.4 361.88 L105.9 361.89 L106.4 361.87 L106.9 361.84 L107.4 361.82 L107.9 361.82 L108.4 361.82 L108.9 361.81 L109.4 361.76 L109.9 361.70 L110.4 361.62 L110.9 361.52 L111.4 361.38 L111.9 361.23 L112.4 361.09 L112.9 361.12 L113.4 361.39 L113.9 361.87 L114.4 362.48 L114.9 363.11 L115.4 363.72 L115.9 364.29 L116.4 364.82 L116.9 365.34 L117.4 365.89 L117.9 366.47 L118.4 367.17 L118.9 367.96 L119.4 368.80 L119.9 369.66 L120.4 370.55 L120.9 371.50 L121.4 372.52 L121.9 373.60 L122.4 374.70 L122.9 375.81 L123.4 376.90 L123.9 378.08 L124.4 379.39 L125.0 380.81 L125.5 382.27 L126.0 383.71 L126.5 385.10 L127.0 386.43 L127.5 387.68 L128.0 388.82 L128.5 389.84 L129.0 390.78 L129.5 391.71 L130.0 392.61 L130.5 393.47 L131.0 394.26 L131.5 394.98 L132.0 395.65 L132.5 396.28 L133.0 396.87 L133.5 397.45 L134.0 397.99 L134.5 398.46 L135.0 398.90 L135.5 399.31 L136.0 399.71 L136.5 400.11 L137.0 400.51 L137.5 400.90 L138.0 401.27 L138.5 401.59 L139.0 401.85 L139.5 402.07 L140.0 402.25 L140.5 402.39 L141.0 402.51 L141.5 402.61 L142.0 402.71 L142.5 402.84 L143.0 402.98 L143.5 403.12 L144.0 403.22 L144.5 403.27 L145.0 403.29 L145.5 403.30 L146.0 403.33 L146.5 403.38 L147.0 403.46 L147.5 403.52 L148.0 403.57 L148.5 403.62 L149.0 403.71 L149.5 403.86 L150.0 404.06 L150.5 404.28 L151.0 404.48 L151.5 404.62 L152.0 404.73 L152.5 404.82 L153.0 404.91 L153.5 405.01 L154.0 405.11 L154.5 405.15 L155.0 405.14 L155.5 405.09 L156.0 405.05 L156.5 405.05 L157.0 405.13 L157.5 405.27 L158.0 405.42 L158.5 405.56 L159.0 405.67 L159.5 405.75 L160.0 405.77 L160.5 405.73 L161.0 405.67 L161.5 405.63 L162.0 405.64 L162.5 405.72 L163.0 405.83 L163.5 405.97 L164.0 406.07 L164.5 406.09 L165.0 406.04 L165.5 405.99 L166.0 405.96 L166.5 405.96 L167.0 405.98 L167.5 406.00 L168.0 406.01 L168.5 405.98 L169.0 405.93 L169.5 405.91 L170.0 405.93 L170.5 405.99 L171.0 406.08 L171.5 406.20 L172.0 406.30 L172.5 406.34 L173.0 406.35 L173.5 406.36 L174.0 406.36 L174.5 406.37 L175.0 406.38 L175.5 406.39 L176.0 406.41 L176.5 406.42 L177.0 406.46 L177.5 406.56 L178.0 406.65 L178.5 406.70 L179.0 406.66 L179.5 406.59 L180.0 406.52 L180.5 406.50 L181.0 406.52 L181.5 406.57 L182.0 406.58 L182.5 406.49 L183.0 406.31 L183.5 406.06 L184.1 405.80 L184.6 405.56 L185.1 405.33 L185.6 405.13 L186.1 404.82 L186.6 404.38 L187.1 403.83 L187.6 403.23 L188.1 402.67 L188.6 402.18 L189.1 401.71 L189.6 401.25 L190.1 400.83 L190.6 400.43 L191.1 400.06 L191.6 399.72 L192.1 399.38 L192.6 399.01 L193.1 398.55 L193.6 398.04 L194.1 397.52 L194.6 397.03 L195.1 396.57 L195.6 396.10 L196.1 395.58 L196.6 394.96 L197.1 394.22 L197.6 393.45 L198.1 392.72 L198.6 392.09 L199.1 391.58 L199.6 391.13 L200.1 390.67 L200.6 390.15 L201.1 389.53 L201.6 388.87 L202.1 388.20 L202.6 387.57 L203.1 386.98 L203.6 386.44 L204.1 385.92 L204.6 385.44 L205.1 384.99 L205.6 384.55 L206.1 384.13 L206.6 383.72 L207.1 383.33 L207.6 382.93 L208.1 382.57 L208.6 382.22 L209.1 381.90 L209.6 381.56 L210.1 381.19 L210.6 380.81 L211.1 380.44 L211.6 380.07 L212.1 379.69 L212.6 379.32 L213.1 378.94 L213.6 378.53 L214.1 378.14 L214.6 377.82 L215.1 377.59 L215.6 377.44 L216.1 377.30 L216.6 377.12 L217.1 376.89 L217.6 376.62 L218.1 376.37 L218.6 376.14 L219.1 375.89 L219.6 375.59 L220.1 375.26 L220.6 374.91 L221.1 374.59 L221.6 374.33 L222.1 374.12 L222.6 373.91 L223.1 373.65 L223.6 373.35 L224.1 373.05 L224.6 372.77 L225.1 372.50 L225.6 372.24 L226.1 371.97 L226.6 371.70 L227.1 371.42 L227.6 371.16 L228.1 370.92 L228.6 370.67 L229.1 370.41 L229.6 370.14 L230.1 369.89 L230.6 369.68 L231.1 369.48 L231.6 369.27 L232.1 369.02 L232.6 368.73 L233.1 368.41 L233.6 368.06 L234.1 367.75 L234.6 367.48 L235.1 367.20 L235.6 366.92 L236.1 366.62 L236.6 366.31 L237.1 365.98 L237.6 365.63 L238.1 365.29 L238.6 364.99 L239.1 364.70 L239.6 364.44 L240.1 364.25 L240.6 364.12 L241.1 364.00 L241.6 363.89 L242.1 363.81 L242.7 363.74 L243.2 363.69 L243.7 363.63 L244.2 363.56 L244.7 363.48 L245.2 363.41 L245.7 363.35 L246.2 363.31 L246.7 363.26 L247.2 363.17 L247.7 363.09 L248.2 363.00 L248.7 362.92 L249.2 362.84 L249.7 362.75 L250.2 362.62 L250.7 362.47 L251.2 362.35 L251.7 362.26 L252.2 362.21 L252.7 362.18 L253.2 362.14 L253.7 362.10 L254.2 362.07 L254.7 362.08 L255.2 362.13 L255.7 362.21 L256.2 362.26 L256.7 362.28 L257.2 362.25 L257.7 362.25 L258.2 362.38 L258.7 362.65 L259.2 363.05 L259.7 363.56 L260.2 364.15 L260.7 364.78 L261.2 365.41 L261.7 366.03 L262.2 366.62 L262.7 367.15 L263.2 367.68 L263.7 368.30 L264.2 369.01 L264.7 369.79 L265.2 370.65 L265.7 371.60 L266.2 372.64 L266.7 373.75 L267.2 374.88 L267.7 376.01 L268.2 377.11 L268.7 378.23 L269.2 379.43 L269.7 380.70 L270.2 382.05 L270.7 383.47 L271.2 384.94 L271.7 386.40 L272.2 387.80 L272.7 389.05 L273.2 390.11 L273.7 391.00 L274.2 391.82 L274.7 392.62 L275.2 393.42 L275.7 394.22 L276.2 395.00 L276.7 395.72 L277.2 396.38 L277.7 396.98 L278.2 397.48 L278.7 397.89 L279.2 398.24 L279.7 398.60 L280.2 398.98 L280.7 399.40 L281.2 399.87 L281.7 400.34 L282.2 400.80 L282.7 401.20 L283.2 401.53 L283.7 401.80 L284.2 401.97 L284.7 402.10 L285.2 402.23 L285.7 402.38 L286.2 402.52 L286.7 402.66 L287.2 402.79 L287.7 402.90 L288.2 402.99 L288.7 403.07 L289.2 403.17 L289.7 403.26 L290.2 403.31 L290.7 403.34 L291.2 403.38 L291.7 403.42 L292.2 403.48 L292.7 403.54 L293.2 403.63 L293.7 403.74 L294.2 403.86 L294.7 403.97 L295.2 404.09 L295.7 404.18 L296.2 404.25 L296.7 404.31 L297.2 404.41 L297.7 404.56 L298.2 404.77 L298.7 404.99 L299.2 405.18 L299.7 405.31 L300.2 405.39 L300.7 405.42 L301.2 405.45 L301.8 405.49 L302.3 405.54 L302.8 405.57 L303.3 405.61 L303.8 405.65 L304.3 405.70 L304.8 405.76 L305.3 405.83 L305.8 405.89 L306.3 405.93 L306.8 405.92 L307.3 405.88 L307.8 405.83 L308.3 405.78 L308.8 405.76 L309.3 405.80 L309.8 405.87 L310.3 405.95 L310.8 405.97 L311.3 405.93 L311.8 405.86 L312.3 405.82 L312.8 405.81 L313.3 405.84 L313.8 405.88 L314.3 405.93 L314.8 405.97 L315.3 405.98 L315.8 405.99 L316.3 406.07 L316.8 406.20 L317.3 406.33 L317.8 406.42 L318.3 406.44 L318.8 406.39 L319.3 406.30 L319.8 406.24 L320.3 406.26 L320.8 406.34 L321.3 406.43 L321.8 406.47 L322.3 406.60" stroke="#c62326" stroke-width="1.1" fill="none"/>
<rect x="144.41" y="307.70" width="31.79" height="9" fill="#fff"/>
<text transform="translate(160.30 316.00) scale(1.0 1.08)" text-anchor="middle" style="font-size:9.2px;fill:#b46e32;stroke:#b46e32;stroke-width:0.12px;">160 W</text>
<rect x="144.41" y="343.90" width="31.79" height="9" fill="#fff"/>
<text transform="translate(160.30 352.20) scale(1.0 1.08)" text-anchor="middle" style="font-size:9.2px;fill:#222222;stroke:#222222;stroke-width:0.12px;">128 W</text>
<rect x="145.86" y="368.90" width="26.67" height="9" fill="#fff"/>
<text transform="translate(159.20 377.20) scale(1.0 1.08)" text-anchor="middle" style="font-size:9.2px;fill:#3b3bf5;stroke:#3b3bf5;stroke-width:0.12px;">96 W</text>
<rect x="145.86" y="386.70" width="26.67" height="9" fill="#fff"/>
<text transform="translate(159.20 395.00) scale(1.0 1.08)" text-anchor="middle" style="font-size:9.2px;fill:#9128d2;stroke:#9128d2;stroke-width:0.12px;">64 W</text>
<rect x="146.26" y="400.50" width="26.67" height="9" fill="#fff"/>
<text transform="translate(159.60 408.80) scale(1.0 1.08)" text-anchor="middle" style="font-size:9.2px;fill:#c62326;stroke:#c62326;stroke-width:0.12px;">32 W</text>
<line x1="37.80" y1="277.0" x2="102.00" y2="277.0" stroke="#222" stroke-width="1"/>
<line x1="116.60" y1="277.0" x2="178.50" y2="277.0" stroke="#222" stroke-width="1"/>
<line x1="179.70" y1="277.0" x2="245.90" y2="277.0" stroke="#222" stroke-width="1"/>
<line x1="260.50" y1="277.0" x2="321.50" y2="277.0" stroke="#222" stroke-width="1"/>
<path d="M37.80 277.00 L45.80 275.10 L45.20 277.00 L45.80 278.90 Z" fill="#111"/>
<path d="M178.50 277.00 L170.50 275.10 L171.10 277.00 L170.50 278.90 Z" fill="#111"/>
<path d="M179.70 277.00 L187.70 275.10 L187.10 277.00 L187.70 278.90 Z" fill="#111"/>
<path d="M321.50 277.00 L313.50 275.10 L314.10 277.00 L313.50 278.90 Z" fill="#111"/>
<line x1="179.0" y1="268.6" x2="179.0" y2="285.0" stroke="#000" stroke-width="1.2" stroke-dasharray="1.3 1.2"/>
<text transform="translate(109.30 280.60) scale(0.95 1.08)" text-anchor="middle" style="font-size:10.0px;fill:#1a1a1a;stroke:#1a1a1a;stroke-width:0.12px;"><tspan style="font-family:Liberation Serif">&#916;</tspan>T</text>
<text transform="translate(253.20 280.60) scale(0.95 1.08)" text-anchor="middle" style="font-size:10.0px;fill:#1a1a1a;stroke:#1a1a1a;stroke-width:0.12px;"><tspan style="font-family:Liberation Serif">&#916;</tspan>T</text>
<text transform="translate(242.80 297.90) scale(1.0 1.0)" text-anchor="start" style="font-size:9.4px;fill:#1a1a1a;stroke:#1a1a1a;stroke-width:0.12px;">Height = 2 cm</text>
<text transform="translate(36.30 427.80) scale(1.0 1.1)" text-anchor="middle" style="font-size:9.3px;fill:#1a1a1a;stroke:#1a1a1a;stroke-width:0.12px;">0</text>
<text transform="translate(72.07 427.80) scale(1.0 1.1)" text-anchor="middle" style="font-size:9.3px;fill:#1a1a1a;stroke:#1a1a1a;stroke-width:0.12px;">50</text>
<text transform="translate(107.85 427.80) scale(1.0 1.1)" text-anchor="middle" style="font-size:9.3px;fill:#1a1a1a;stroke:#1a1a1a;stroke-width:0.12px;">100</text>
<text transform="translate(143.62 427.80) scale(1.0 1.1)" text-anchor="middle" style="font-size:9.3px;fill:#1a1a1a;stroke:#1a1a1a;stroke-width:0.12px;">150</text>
<text transform="translate(179.40 427.80) scale(1.0 1.1)" text-anchor="middle" style="font-size:9.3px;fill:#1a1a1a;stroke:#1a1a1a;stroke-width:0.12px;">200</text>
<text transform="translate(215.18 427.80) scale(1.0 1.1)" text-anchor="middle" style="font-size:9.3px;fill:#1a1a1a;stroke:#1a1a1a;stroke-width:0.12px;">250</text>
<text transform="translate(250.95 427.80) scale(1.0 1.1)" text-anchor="middle" style="font-size:9.3px;fill:#1a1a1a;stroke:#1a1a1a;stroke-width:0.12px;">300</text>
<text transform="translate(286.73 427.80) scale(1.0 1.1)" text-anchor="middle" style="font-size:9.3px;fill:#1a1a1a;stroke:#1a1a1a;stroke-width:0.12px;">350</text>
<text transform="translate(322.50 427.80) scale(1.0 1.1)" text-anchor="middle" style="font-size:9.3px;fill:#1a1a1a;stroke:#1a1a1a;stroke-width:0.12px;">400</text>
<text transform="translate(180.50 437.80) scale(1.0 1.0)" text-anchor="middle" style="font-size:9.6px;fill:#1a1a1a;stroke:#1a1a1a;stroke-width:0.12px;">Time (&#956;s)</text>
<text transform="translate(11.70 44.30) rotate(-90) scale(1.0 1.0)" text-anchor="middle" style="font-size:9.0px;fill:#1a1a1a;stroke:#1a1a1a;stroke-width:0.12px;">Power&#160; (W)</text>
<text transform="translate(10.40 173.00) rotate(-90) scale(1.0 0.92)" text-anchor="middle" style="font-size:9.6px;fill:#1a1a1a;stroke:#1a1a1a;stroke-width:0.12px;">Electron Density ( x 10<tspan dy="-3.6" style="font-size:5.8px">11</tspan><tspan dy="3.6"> cm</tspan><tspan dy="-3.6" style="font-size:5.8px">-3</tspan><tspan dy="3.6">)</tspan></text>
<text transform="translate(9.50 341.50) rotate(-90) scale(1.0 0.92)" text-anchor="middle" style="font-size:9.45px;fill:#1a1a1a;stroke:#1a1a1a;stroke-width:0.12px;">Electron Density ( x 10<tspan dy="-3.6" style="font-size:5.8px">10</tspan><tspan dy="3.6"> cm</tspan><tspan dy="-3.6" style="font-size:5.8px">-3</tspan><tspan dy="3.6">)</tspan></text>
<text transform="translate(5.80 92.00) scale(1.0 1.0)" text-anchor="start" style="font-size:9.2px;fill:#1a1a1a;stroke:#1a1a1a;stroke-width:0.12px;">a)</text>
<text transform="translate(7.20 252.60) scale(1.0 1.0)" text-anchor="start" style="font-size:9.2px;fill:#1a1a1a;stroke:#1a1a1a;stroke-width:0.12px;">b)</text>
<text transform="translate(8.00 419.00) scale(1.0 1.0)" text-anchor="start" style="font-size:9.2px;fill:#1a1a1a;stroke:#1a1a1a;stroke-width:0.12px;">c)</text>
</svg>
</body></html>
